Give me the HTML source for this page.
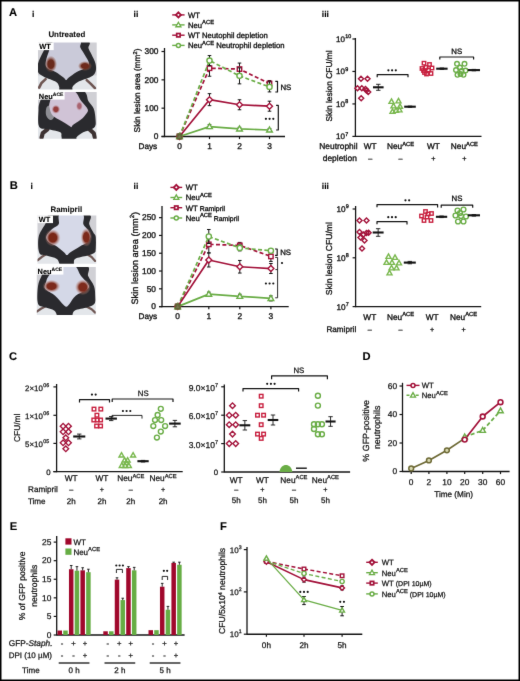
<!DOCTYPE html>
<html><head><meta charset="utf-8"><style>
html,body{margin:0;padding:0;background:#fff;}
body{width:520px;height:681px;overflow:hidden;}
svg{display:block;will-change:transform;}
text{font-family:"Liberation Sans", sans-serif;text-rendering:geometricPrecision;}
</style></head><body>
<svg width="520" height="681" viewBox="0 0 520 681">
<defs><filter id="gblur" color-interpolation-filters="sRGB" x="0" y="0" width="520" height="681" filterUnits="userSpaceOnUse"><feConvolveMatrix order="3" kernelMatrix="0.00524 0.06192 0.00524 0.06192 0.73137 0.06192 0.00524 0.06192 0.00524" edgeMode="duplicate" preserveAlpha="true"/></filter></defs>
<g filter="url(#gblur)">
<rect x="0" y="0" width="520" height="681" fill="#fff"/>
<text x="9" y="16.3" font-size="11.2" font-weight="bold" fill="#000" stroke="#000" stroke-width="0.1">A</text>
<text x="32" y="16.9" font-size="8.6" font-weight="bold" fill="#000" stroke="#000" stroke-width="0.1">i</text>
<text x="66.8" y="36.7" font-size="7.9" text-anchor="middle" font-weight="bold" fill="#111" stroke="#111" stroke-width="0.1">Untreated</text>
<defs><clipPath id="cp1"><rect x="38" y="42.5" width="58.7" height="47"/></clipPath>
<radialGradient id="lg1_0"><stop offset="0" stop-color="#6a2a1c"/><stop offset="0.5" stop-color="#6a2a1c"/><stop offset="1" stop-color="#9a6050" stop-opacity="0"/></radialGradient>
<radialGradient id="lg1_1"><stop offset="0" stop-color="#6e2c1c"/><stop offset="0.5" stop-color="#6e2c1c"/><stop offset="1" stop-color="#a06650" stop-opacity="0"/></radialGradient>
<filter id="sf1" x="-10%" y="-10%" width="120%" height="120%"><feGaussianBlur stdDeviation="0.6"/></filter>
</defs>
<g clip-path="url(#cp1)"><g filter="url(#sf1)">
<rect x="36" y="40.5" width="62.7" height="51" fill="#d0d0d5"/>
<rect x="36" y="75.4" width="62.7" height="16.57" fill="#e3e6ea"/>
<polyline points="39.17,87.62 41.52,82.92 45.63,79.16" fill="none" stroke="#6e5652" stroke-width="2.6" stroke-linecap="round" stroke-linejoin="round"/>
<polyline points="94.94,88.09 90.83,83.86 86.72,80.1" fill="none" stroke="#6e5652" stroke-width="2.6" stroke-linecap="round" stroke-linejoin="round"/>
<path d="M49.74,41.09 C56.39,40.39 80.26,39.92 86.72,41.09 C93.18,42.27 87.7,45.95 88.48,48.14 C89.26,50.33 90.24,51.66 91.42,54.25 C92.59,56.84 94.84,60.75 95.53,63.65 C96.21,66.55 96.31,69.45 95.53,71.64 C94.74,73.83 93.77,75.09 90.83,76.81 C87.9,78.53 80.95,80.33 77.92,81.98 C74.88,83.62 73.71,85.19 72.63,86.68 C71.56,88.17 73.51,90.2 71.46,90.91 C69.4,91.61 62.36,91.61 60.31,90.91 C58.25,90.2 59.82,88.17 59.13,86.68 C58.45,85.19 58.74,83.62 56.2,81.98 C53.65,80.33 46.9,78.45 43.87,76.81 C40.84,75.17 38.98,74.3 38,72.11 C37.02,69.92 37.18,66.94 38,63.65 C38.82,60.36 41.46,55.42 42.93,52.37 C44.4,49.31 45.67,47.2 46.8,45.32 C47.94,43.44 43.09,41.8 49.74,41.09Z" fill="#2b2b2e"/>
<path d="M54.73,41.09 C59.82,39.21 74.83,40.07 79.09,41.09 C83.35,42.11 79.38,45.01 80.26,47.2 C81.14,49.39 82.91,51.51 84.37,54.25 C85.84,56.99 89.17,61.22 89.07,63.65 C88.97,66.08 85.84,67.41 83.79,68.82 C81.73,70.23 79.29,70.62 76.74,72.11 C74.2,73.6 70.28,76.42 68.52,77.75 C66.76,79.08 66.96,80.1 66.18,80.1 C65.39,80.1 65.59,79.08 63.83,77.75 C62.07,76.42 58.25,73.6 55.61,72.11 C52.97,70.62 49.64,70.23 47.98,68.82 C46.32,67.41 45.53,66.39 45.63,63.65 C45.73,60.91 47.05,56.13 48.57,52.37 C50.08,48.61 49.64,42.97 54.73,41.09Z" fill="#cacad9"/>
<ellipse cx="50.91" cy="64.12" rx="6.16" ry="8.46" fill="url(#lg1_0)"/>
<ellipse cx="84.96" cy="66" rx="7.04" ry="4.94" fill="url(#lg1_1)"/>
</g></g>
<rect x="38" y="42.5" width="15.7" height="7.6" fill="#fff"/>
<text x="39.2" y="49.1" font-size="7.4" font-weight="bold" fill="#000" stroke="#000" stroke-width="0.1">WT</text>
<defs><clipPath id="cp2"><rect x="38" y="92" width="58.7" height="46.8"/></clipPath>
<radialGradient id="lg2_0"><stop offset="0" stop-color="#943c3c"/><stop offset="0.5" stop-color="#943c3c"/><stop offset="1" stop-color="#c09098" stop-opacity="0"/></radialGradient>
<radialGradient id="lg2_1"><stop offset="0" stop-color="#a86470"/><stop offset="0.5" stop-color="#a86470"/><stop offset="1" stop-color="#c8a0b0" stop-opacity="0"/></radialGradient>
<filter id="sf2" x="-10%" y="-10%" width="120%" height="120%"><feGaussianBlur stdDeviation="0.6"/></filter>
</defs>
<g clip-path="url(#cp2)"><g filter="url(#sf2)">
<rect x="36" y="90" width="62.7" height="50.8" fill="#d0d0d5"/>
<rect x="36" y="124.76" width="62.7" height="16.51" fill="#e3e6ea"/>
<polyline points="41.52,137.86 42.7,133.18 47.39,129.44" fill="none" stroke="#3e3232" stroke-width="4.2" stroke-linecap="round" stroke-linejoin="round"/>
<polyline points="94.94,137.86 93.77,133.18 89.66,129.44" fill="none" stroke="#3e3232" stroke-width="4.2" stroke-linecap="round" stroke-linejoin="round"/>
<path d="M49.74,90.6 C56.1,89.89 75.57,88.8 82.03,90.6 C88.48,92.39 86.53,98.32 88.48,101.36 C90.44,104.4 92.59,105.81 93.77,108.85 C94.94,111.89 95.33,116.65 95.53,119.61 C95.72,122.58 96.11,124.84 94.94,126.63 C93.76,128.43 90.44,129.44 88.48,130.38 C86.53,131.31 85.16,131.16 83.2,132.25 C81.24,133.34 78.01,135.6 76.74,136.93 C75.47,138.25 77.82,139.66 75.57,140.2 C73.32,140.75 65.59,140.83 63.24,140.2 C60.89,139.58 61.97,137.79 61.48,136.46 C60.99,135.13 62.26,133.42 60.31,132.25 C58.35,131.08 53.26,130.38 49.74,129.44 C46.22,128.5 41.03,129.91 39.17,126.63 C37.32,123.36 38.49,113.84 38.59,109.78 C38.68,105.73 38.88,104.79 39.76,102.3 C40.64,99.8 42.21,96.76 43.87,94.81 C45.53,92.86 43.38,91.3 49.74,90.6Z" fill="#2b2b2e"/>
<path d="M46.8,106.98 C47.88,105.42 51.4,104.64 52.67,106.04 C53.95,107.44 54.73,113.06 54.44,115.4 C54.14,117.74 52.28,120.08 50.91,120.08 C49.54,120.08 46.9,117.58 46.22,115.4 C45.53,113.22 45.73,108.54 46.8,106.98Z" fill="#8e8e94"/>
<path d="M55.61,90.6 C59.52,88.65 68.92,88.8 73.22,90.6 C77.52,92.39 78.99,98.16 81.44,101.36 C83.88,104.56 87.31,107.44 87.9,109.78 C88.48,112.12 86.23,113.68 84.96,115.4 C83.69,117.12 82.22,118.52 80.26,120.08 C78.31,121.64 74.69,123.59 73.22,124.76 C71.75,125.93 72.14,126.94 71.46,127.1 C70.77,127.26 70.77,126.71 69.11,125.7 C67.45,124.68 64.22,122.73 61.48,121.02 C58.74,119.3 54.63,117.51 52.67,115.4 C50.72,113.29 50.23,110.56 49.74,108.38 C49.25,106.2 48.76,105.26 49.74,102.3 C50.72,99.33 51.7,92.55 55.61,90.6Z" fill="#d0c3d6"/>
<ellipse cx="55.9" cy="109.32" rx="4.4" ry="4.56" fill="url(#lg2_0)"/>
<ellipse cx="79.38" cy="106.04" rx="3.52" ry="4.91" fill="url(#lg2_1)"/>
</g></g>
<rect x="38" y="92" width="26.6" height="7.6" fill="#fff"/>
<text x="38.8" y="98.6" font-size="7.4" font-weight="bold" fill="#000" stroke="#000" stroke-width="0.1">Neu<tspan font-size="5" dy="-2.8">ACE</tspan></text>
<text x="133.6" y="17.2" font-size="8.6" font-weight="bold" fill="#000" stroke="#000" stroke-width="0.1">ii</text>
<line x1="172.2" y1="14.9" x2="184.6" y2="14.9" stroke="#a3123a" stroke-width="1.4"/>
<polygon points="178.4,12.37 180.93,14.9 178.4,17.43 175.87,14.9" fill="#fff" stroke="#a3123a" stroke-width="1.9"/>
<text x="188" y="17.7" font-size="7.7" fill="#141414" stroke="#141414" stroke-width="0.34">WT</text>
<line x1="172.2" y1="24.9" x2="184.6" y2="24.9" stroke="#6aad46" stroke-width="1.4"/>
<polygon points="178.4,22.25 180.93,26.74 175.87,26.74" fill="#fff" stroke="#6aad46" stroke-width="1.3" stroke-linejoin="miter"/>
<text x="188" y="27.7" font-size="7.7" fill="#141414" stroke="#141414" stroke-width="0.34">Neu<tspan font-size="5.8" dy="-3.4">ACE</tspan></text>
<line x1="172.2" y1="35.2" x2="184.6" y2="35.2" stroke="#a3123a" stroke-width="1.4"/>
<rect x="176.7" y="33.5" width="3.4" height="3.4" fill="#fff" stroke="#a3123a" stroke-width="1.7"/>
<text x="188" y="38" font-size="7.7" fill="#141414" stroke="#141414" stroke-width="0.34">WT Neutophil depletion</text>
<line x1="172.2" y1="45.4" x2="184.6" y2="45.4" stroke="#6aad46" stroke-width="1.4"/>
<circle cx="178.4" cy="45.4" r="2" fill="#fff" stroke="#6aad46" stroke-width="1.5"/>
<text x="188" y="48.2" font-size="7.7" fill="#141414" stroke="#141414" stroke-width="0.34">Neu<tspan font-size="5.8" dy="-3.4">ACE</tspan><tspan dy="3.4"> Neutrophil depletion</tspan></text>
<line x1="164.5" y1="48" x2="164.5" y2="137.1" stroke="#141414" stroke-width="1.3"/>
<line x1="161.5" y1="136.5" x2="164.5" y2="136.5" stroke="#141414" stroke-width="1.2"/>
<text x="158.5" y="139.3" font-size="8.4" text-anchor="end" fill="#141414" stroke="#141414" stroke-width="0.34">0</text>
<line x1="161.5" y1="108.17" x2="164.5" y2="108.17" stroke="#141414" stroke-width="1.2"/>
<text x="158.5" y="110.97" font-size="8.4" text-anchor="end" fill="#141414" stroke="#141414" stroke-width="0.34">100</text>
<line x1="161.5" y1="79.84" x2="164.5" y2="79.84" stroke="#141414" stroke-width="1.2"/>
<text x="158.5" y="82.64" font-size="8.4" text-anchor="end" fill="#141414" stroke="#141414" stroke-width="0.34">200</text>
<line x1="161.5" y1="51.51" x2="164.5" y2="51.51" stroke="#141414" stroke-width="1.2"/>
<text x="158.5" y="54.31" font-size="8.4" text-anchor="end" fill="#141414" stroke="#141414" stroke-width="0.34">300</text>
<line x1="161.5" y1="136.5" x2="285" y2="136.5" stroke="#141414" stroke-width="1.4"/>
<line x1="209.5" y1="136.5" x2="209.5" y2="139.1" stroke="#141414" stroke-width="1.2"/>
<line x1="239.5" y1="136.5" x2="239.5" y2="139.1" stroke="#141414" stroke-width="1.2"/>
<line x1="269.5" y1="136.5" x2="269.5" y2="139.1" stroke="#141414" stroke-width="1.2"/>
<text x="179.5" y="148.6" font-size="8.4" text-anchor="middle" fill="#141414" stroke="#141414" stroke-width="0.34">0</text>
<text x="209.5" y="148.6" font-size="8.4" text-anchor="middle" fill="#141414" stroke="#141414" stroke-width="0.34">1</text>
<text x="239.5" y="148.6" font-size="8.4" text-anchor="middle" fill="#141414" stroke="#141414" stroke-width="0.34">2</text>
<text x="269.5" y="148.6" font-size="8.4" text-anchor="middle" fill="#141414" stroke="#141414" stroke-width="0.34">3</text>
<text x="157.2" y="148.6" font-size="8.2" text-anchor="end" fill="#141414" stroke="#141414" stroke-width="0.34">Days</text>
<text transform="translate(139.6,90.5) rotate(-90)" text-anchor="middle" font-size="8.3" fill="#141414" stroke="#141414" stroke-width="0.34">Skin lesion area (mm<tspan font-size="5.6" dy="-3">2</tspan><tspan dy="3">)</tspan></text>
<polyline points="179.5,136.5 209.5,68.22 239.5,69.07 269.5,83.52" fill="none" stroke="#a3123a" stroke-width="1.7" stroke-dasharray="4,2.4" stroke-linejoin="round"/>
<line x1="209.5" y1="61.22" x2="209.5" y2="76.22" stroke="#141414" stroke-width="1"/>
<line x1="207.7" y1="61.22" x2="211.3" y2="61.22" stroke="#141414" stroke-width="1"/>
<line x1="207.7" y1="76.22" x2="211.3" y2="76.22" stroke="#141414" stroke-width="1"/>
<line x1="239.5" y1="63.07" x2="239.5" y2="74.07" stroke="#141414" stroke-width="1"/>
<line x1="237.7" y1="63.07" x2="241.3" y2="63.07" stroke="#141414" stroke-width="1"/>
<line x1="237.7" y1="74.07" x2="241.3" y2="74.07" stroke="#141414" stroke-width="1"/>
<line x1="269.5" y1="80.52" x2="269.5" y2="86.52" stroke="#141414" stroke-width="1"/>
<line x1="267.7" y1="80.52" x2="271.3" y2="80.52" stroke="#141414" stroke-width="1"/>
<line x1="267.7" y1="86.52" x2="271.3" y2="86.52" stroke="#141414" stroke-width="1"/>
<rect x="177.29" y="134.29" width="4.42" height="4.42" fill="#fff" stroke="#a3123a" stroke-width="1.4"/>
<rect x="207.29" y="66.01" width="4.42" height="4.42" fill="#fff" stroke="#a3123a" stroke-width="1.4"/>
<rect x="237.29" y="66.86" width="4.42" height="4.42" fill="#fff" stroke="#a3123a" stroke-width="1.4"/>
<rect x="267.29" y="81.31" width="4.42" height="4.42" fill="#fff" stroke="#a3123a" stroke-width="1.4"/>
<polyline points="179.5,136.5 209.5,60.58 239.5,75.87 269.5,86.92" fill="none" stroke="#6aad46" stroke-width="1.7" stroke-dasharray="4,2.4" stroke-linejoin="round"/>
<line x1="209.5" y1="55.58" x2="209.5" y2="65.58" stroke="#141414" stroke-width="1"/>
<line x1="207.7" y1="55.58" x2="211.3" y2="55.58" stroke="#141414" stroke-width="1"/>
<line x1="207.7" y1="65.58" x2="211.3" y2="65.58" stroke="#141414" stroke-width="1"/>
<line x1="239.5" y1="67.87" x2="239.5" y2="83.87" stroke="#141414" stroke-width="1"/>
<line x1="237.7" y1="67.87" x2="241.3" y2="67.87" stroke="#141414" stroke-width="1"/>
<line x1="237.7" y1="83.87" x2="241.3" y2="83.87" stroke="#141414" stroke-width="1"/>
<line x1="269.5" y1="81.92" x2="269.5" y2="91.92" stroke="#141414" stroke-width="1"/>
<line x1="267.7" y1="81.92" x2="271.3" y2="81.92" stroke="#141414" stroke-width="1"/>
<line x1="267.7" y1="91.92" x2="271.3" y2="91.92" stroke="#141414" stroke-width="1"/>
<circle cx="179.5" cy="136.5" r="2.6" fill="#fff" stroke="#6aad46" stroke-width="1.4"/>
<circle cx="209.5" cy="60.58" r="2.6" fill="#fff" stroke="#6aad46" stroke-width="1.4"/>
<circle cx="239.5" cy="75.87" r="2.6" fill="#fff" stroke="#6aad46" stroke-width="1.4"/>
<circle cx="269.5" cy="86.92" r="2.6" fill="#fff" stroke="#6aad46" stroke-width="1.4"/>
<polyline points="179.5,136.5 209.5,99.67 239.5,104.77 269.5,106.19" fill="none" stroke="#a3123a" stroke-width="1.7" stroke-linejoin="round"/>
<line x1="209.5" y1="93.67" x2="209.5" y2="105.67" stroke="#141414" stroke-width="1"/>
<line x1="207.7" y1="93.67" x2="211.3" y2="93.67" stroke="#141414" stroke-width="1"/>
<line x1="207.7" y1="105.67" x2="211.3" y2="105.67" stroke="#141414" stroke-width="1"/>
<line x1="239.5" y1="99.77" x2="239.5" y2="109.77" stroke="#141414" stroke-width="1"/>
<line x1="237.7" y1="99.77" x2="241.3" y2="99.77" stroke="#141414" stroke-width="1"/>
<line x1="237.7" y1="109.77" x2="241.3" y2="109.77" stroke="#141414" stroke-width="1"/>
<line x1="269.5" y1="101.19" x2="269.5" y2="111.19" stroke="#141414" stroke-width="1"/>
<line x1="267.7" y1="101.19" x2="271.3" y2="101.19" stroke="#141414" stroke-width="1"/>
<line x1="267.7" y1="111.19" x2="271.3" y2="111.19" stroke="#141414" stroke-width="1"/>
<polygon points="179.5,133.51 182.49,136.5 179.5,139.49 176.51,136.5" fill="#fff" stroke="#a3123a" stroke-width="1.4"/>
<polygon points="209.5,96.68 212.49,99.67 209.5,102.66 206.51,99.67" fill="#fff" stroke="#a3123a" stroke-width="1.4"/>
<polygon points="239.5,101.78 242.49,104.77 239.5,107.76 236.51,104.77" fill="#fff" stroke="#a3123a" stroke-width="1.4"/>
<polygon points="269.5,103.2 272.49,106.19 269.5,109.18 266.51,106.19" fill="#fff" stroke="#a3123a" stroke-width="1.4"/>
<polyline points="179.5,136.5 209.5,126.58 239.5,128.85 269.5,129.98" fill="none" stroke="#6aad46" stroke-width="1.7" stroke-linejoin="round"/>
<line x1="209.5" y1="124.58" x2="209.5" y2="128.58" stroke="#141414" stroke-width="1"/>
<line x1="207.7" y1="124.58" x2="211.3" y2="124.58" stroke="#141414" stroke-width="1"/>
<line x1="207.7" y1="128.58" x2="211.3" y2="128.58" stroke="#141414" stroke-width="1"/>
<line x1="239.5" y1="127.35" x2="239.5" y2="130.35" stroke="#141414" stroke-width="1"/>
<line x1="237.7" y1="127.35" x2="241.3" y2="127.35" stroke="#141414" stroke-width="1"/>
<line x1="237.7" y1="130.35" x2="241.3" y2="130.35" stroke="#141414" stroke-width="1"/>
<line x1="269.5" y1="128.48" x2="269.5" y2="131.48" stroke="#141414" stroke-width="1"/>
<line x1="267.7" y1="128.48" x2="271.3" y2="128.48" stroke="#141414" stroke-width="1"/>
<line x1="267.7" y1="131.48" x2="271.3" y2="131.48" stroke="#141414" stroke-width="1"/>
<polygon points="179.5,133.51 182.36,138.58 176.64,138.58" fill="#fff" stroke="#6aad46" stroke-width="1.4" stroke-linejoin="miter"/>
<polygon points="209.5,123.59 212.36,128.66 206.64,128.66" fill="#fff" stroke="#6aad46" stroke-width="1.4" stroke-linejoin="miter"/>
<polygon points="239.5,125.86 242.36,130.93 236.64,130.93" fill="#fff" stroke="#6aad46" stroke-width="1.4" stroke-linejoin="miter"/>
<polygon points="269.5,126.99 272.36,132.06 266.64,132.06" fill="#fff" stroke="#6aad46" stroke-width="1.4" stroke-linejoin="miter"/>
<rect x="176.6" y="133.4" width="5.8" height="6" fill="#5e5a34" opacity="0.85"/>
<polyline points="275.3,81.3 277.5,81.3 277.5,92 275.3,92" fill="none" stroke="#141414" stroke-width="1.2" stroke-linejoin="round"/>
<text x="280.4" y="89.6" font-size="7.8" fill="#141414" stroke="#141414" stroke-width="0.34">NS</text>
<polyline points="276.1,105.4 278.3,105.4 278.3,130 276.1,130" fill="none" stroke="#141414" stroke-width="1.2" stroke-linejoin="round"/>
<circle cx="265.9" cy="118.8" r="1.1" fill="#141414"/>
<circle cx="269.6" cy="118.8" r="1.1" fill="#141414"/>
<circle cx="273.3" cy="118.8" r="1.1" fill="#141414"/>
<text x="321.8" y="17.2" font-size="8.6" font-weight="bold" fill="#000" stroke="#000" stroke-width="0.1">iii</text>
<line x1="355.4" y1="38" x2="355.4" y2="137" stroke="#141414" stroke-width="1.3"/>
<line x1="352.4" y1="136.4" x2="355.4" y2="136.4" stroke="#141414" stroke-width="1.2"/>
<text x="345" y="139.4" font-size="8" text-anchor="end" fill="#141414" stroke="#141414" stroke-width="0.34">10</text>
<text x="345.2" y="135.8" font-size="5.4" fill="#141414" stroke="#141414" stroke-width="0.34">7</text>
<line x1="352.4" y1="103.93" x2="355.4" y2="103.93" stroke="#141414" stroke-width="1.2"/>
<text x="345" y="106.93" font-size="8" text-anchor="end" fill="#141414" stroke="#141414" stroke-width="0.34">10</text>
<text x="345.2" y="103.33" font-size="5.4" fill="#141414" stroke="#141414" stroke-width="0.34">8</text>
<line x1="352.4" y1="71.46" x2="355.4" y2="71.46" stroke="#141414" stroke-width="1.2"/>
<text x="345" y="74.46" font-size="8" text-anchor="end" fill="#141414" stroke="#141414" stroke-width="0.34">10</text>
<text x="345.2" y="70.86" font-size="5.4" fill="#141414" stroke="#141414" stroke-width="0.34">9</text>
<line x1="352.4" y1="38.99" x2="355.4" y2="38.99" stroke="#141414" stroke-width="1.2"/>
<text x="345" y="41.99" font-size="8" text-anchor="end" fill="#141414" stroke="#141414" stroke-width="0.34">10</text>
<text x="345.2" y="38.39" font-size="5.4" fill="#141414" stroke="#141414" stroke-width="0.34">10</text>
<line x1="355.4" y1="136.4" x2="481.5" y2="136.4" stroke="#141414" stroke-width="1.4"/>
<text transform="translate(331.6,86) rotate(-90)" text-anchor="middle" font-size="8.4" fill="#141414" stroke="#141414" stroke-width="0.34">Skin lesion CFU/ml</text>
<polygon points="361,76.27 363.53,78.8 361,81.33 358.47,78.8" fill="none" stroke="#a3123a" stroke-width="1.4"/>
<polygon points="367.5,76.27 370.03,78.8 367.5,81.33 364.97,78.8" fill="none" stroke="#a3123a" stroke-width="1.4"/>
<polygon points="357.5,85.77 360.03,88.3 357.5,90.83 354.97,88.3" fill="none" stroke="#a3123a" stroke-width="1.4"/>
<polygon points="361.8,85.77 364.33,88.3 361.8,90.83 359.27,88.3" fill="none" stroke="#a3123a" stroke-width="1.4"/>
<polygon points="365.5,86.47 368.03,89 365.5,91.53 362.97,89" fill="none" stroke="#a3123a" stroke-width="1.4"/>
<polygon points="368.2,89.47 370.73,92 368.2,94.53 365.67,92" fill="none" stroke="#a3123a" stroke-width="1.4"/>
<polygon points="361.2,95.77 363.73,98.3 361.2,100.83 358.67,98.3" fill="none" stroke="#a3123a" stroke-width="1.4"/>
<polygon points="366.5,87.97 369.03,90.5 366.5,93.03 363.97,90.5" fill="none" stroke="#a3123a" stroke-width="1.4"/>
<line x1="373" y1="87.3" x2="383.6" y2="87.3" stroke="#141414" stroke-width="2.1"/>
<line x1="378.3" y1="84.3" x2="378.3" y2="90.3" stroke="#141414" stroke-width="0.9"/>
<line x1="376.1" y1="84.3" x2="380.5" y2="84.3" stroke="#141414" stroke-width="0.9"/>
<line x1="376.1" y1="90.3" x2="380.5" y2="90.3" stroke="#141414" stroke-width="0.9"/>
<polygon points="391.5,98.86 394.03,103.34 388.97,103.34" fill="none" stroke="#7ab84f" stroke-width="1.4" stroke-linejoin="miter"/>
<polygon points="398.5,98.36 401.03,102.84 395.97,102.84" fill="none" stroke="#7ab84f" stroke-width="1.4" stroke-linejoin="miter"/>
<polygon points="393.5,103.36 396.03,107.84 390.97,107.84" fill="none" stroke="#7ab84f" stroke-width="1.4" stroke-linejoin="miter"/>
<polygon points="400,103.86 402.53,108.34 397.47,108.34" fill="none" stroke="#7ab84f" stroke-width="1.4" stroke-linejoin="miter"/>
<polygon points="396,107.86 398.53,112.34 393.47,112.34" fill="none" stroke="#7ab84f" stroke-width="1.4" stroke-linejoin="miter"/>
<polygon points="392.5,108.86 395.03,113.34 389.97,113.34" fill="none" stroke="#7ab84f" stroke-width="1.4" stroke-linejoin="miter"/>
<polygon points="399.5,107.36 402.03,111.84 396.97,111.84" fill="none" stroke="#7ab84f" stroke-width="1.4" stroke-linejoin="miter"/>
<line x1="404.2" y1="106.7" x2="415.8" y2="106.7" stroke="#141414" stroke-width="2.1"/>
<line x1="410" y1="106.1" x2="410" y2="107.3" stroke="#141414" stroke-width="0.9"/>
<line x1="407.8" y1="106.1" x2="412.2" y2="106.1" stroke="#141414" stroke-width="0.9"/>
<line x1="407.8" y1="107.3" x2="412.2" y2="107.3" stroke="#141414" stroke-width="0.9"/>
<rect x="422.3" y="61.5" width="3.4" height="3.4" fill="none" stroke="#c8203f" stroke-width="1.4"/>
<rect x="427.8" y="62.8" width="3.4" height="3.4" fill="none" stroke="#c8203f" stroke-width="1.4"/>
<rect x="430.3" y="66.3" width="3.4" height="3.4" fill="none" stroke="#c8203f" stroke-width="1.4"/>
<rect x="420.3" y="66.8" width="3.4" height="3.4" fill="none" stroke="#c8203f" stroke-width="1.4"/>
<rect x="424.3" y="65.8" width="3.4" height="3.4" fill="none" stroke="#c8203f" stroke-width="1.4"/>
<rect x="426.8" y="68.3" width="3.4" height="3.4" fill="none" stroke="#c8203f" stroke-width="1.4"/>
<rect x="422.8" y="70.8" width="3.4" height="3.4" fill="none" stroke="#c8203f" stroke-width="1.4"/>
<rect x="429.3" y="71.8" width="3.4" height="3.4" fill="none" stroke="#c8203f" stroke-width="1.4"/>
<rect x="424.8" y="72.3" width="3.4" height="3.4" fill="none" stroke="#c8203f" stroke-width="1.4"/>
<rect x="421.8" y="68.8" width="3.4" height="3.4" fill="none" stroke="#c8203f" stroke-width="1.4"/>
<line x1="436.2" y1="68.7" x2="447.6" y2="68.7" stroke="#141414" stroke-width="2.1"/>
<line x1="441.9" y1="68" x2="441.9" y2="69.4" stroke="#141414" stroke-width="0.9"/>
<line x1="439.7" y1="68" x2="444.1" y2="68" stroke="#141414" stroke-width="0.9"/>
<line x1="439.7" y1="69.4" x2="444.1" y2="69.4" stroke="#141414" stroke-width="0.9"/>
<circle cx="457" cy="63.8" r="2.3" fill="none" stroke="#6aad46" stroke-width="1.4"/>
<circle cx="464.5" cy="63.8" r="2.3" fill="none" stroke="#6aad46" stroke-width="1.4"/>
<circle cx="460" cy="67.5" r="2.3" fill="none" stroke="#6aad46" stroke-width="1.4"/>
<circle cx="456" cy="70" r="2.3" fill="none" stroke="#6aad46" stroke-width="1.4"/>
<circle cx="461.5" cy="71" r="2.3" fill="none" stroke="#6aad46" stroke-width="1.4"/>
<circle cx="465.5" cy="70.5" r="2.3" fill="none" stroke="#6aad46" stroke-width="1.4"/>
<circle cx="457.5" cy="74.8" r="2.3" fill="none" stroke="#6aad46" stroke-width="1.4"/>
<circle cx="463.5" cy="74.8" r="2.3" fill="none" stroke="#6aad46" stroke-width="1.4"/>
<circle cx="460.5" cy="74" r="2.3" fill="none" stroke="#6aad46" stroke-width="1.4"/>
<line x1="467.8" y1="70.1" x2="480" y2="70.1" stroke="#141414" stroke-width="2.1"/>
<line x1="473.9" y1="69.4" x2="473.9" y2="70.8" stroke="#141414" stroke-width="0.9"/>
<line x1="471.7" y1="69.4" x2="476.1" y2="69.4" stroke="#141414" stroke-width="0.9"/>
<line x1="471.7" y1="70.8" x2="476.1" y2="70.8" stroke="#141414" stroke-width="0.9"/>
<polyline points="377.2,77.2 377.2,74.6 408,74.6 408,77.2" fill="none" stroke="#141414" stroke-width="1.2" stroke-linejoin="round"/>
<circle cx="388.4" cy="70.3" r="1.1" fill="#141414"/>
<circle cx="392.1" cy="70.3" r="1.1" fill="#141414"/>
<circle cx="395.8" cy="70.3" r="1.1" fill="#141414"/>
<polyline points="439.8,59.6 439.8,57 473.6,57 473.6,59.6" fill="none" stroke="#141414" stroke-width="1.2" stroke-linejoin="round"/>
<text x="456.7" y="53.5" font-size="7.8" text-anchor="middle" fill="#141414" stroke="#141414" stroke-width="0.34">NS</text>
<text x="357.5" y="149.2" font-size="8.4" text-anchor="end" fill="#141414" stroke="#141414" stroke-width="0.34">Neutrophil</text>
<text x="356.8" y="161" font-size="8.4" text-anchor="end" fill="#141414" stroke="#141414" stroke-width="0.34">depletion</text>
<text x="370.2" y="149.2" font-size="8.3" text-anchor="middle" fill="#141414" stroke="#141414" stroke-width="0.34">WT</text>
<text x="370.2" y="161" font-size="7.2" text-anchor="middle" fill="#141414" stroke="#141414" stroke-width="0.34">–</text>
<text x="400.6" y="149.2" font-size="8.3" text-anchor="middle" fill="#141414" stroke="#141414" stroke-width="0.34">Neu<tspan font-size="5.8" dy="-3.4">ACE</tspan></text>
<text x="400.6" y="161" font-size="7.2" text-anchor="middle" fill="#141414" stroke="#141414" stroke-width="0.34">–</text>
<text x="433.4" y="149.2" font-size="8.3" text-anchor="middle" fill="#141414" stroke="#141414" stroke-width="0.34">WT</text>
<text x="433.4" y="161" font-size="7.2" text-anchor="middle" fill="#141414" stroke="#141414" stroke-width="0.34">+</text>
<text x="464.4" y="149.2" font-size="8.3" text-anchor="middle" fill="#141414" stroke="#141414" stroke-width="0.34">Neu<tspan font-size="5.8" dy="-3.4">ACE</tspan></text>
<text x="464.4" y="161" font-size="7.2" text-anchor="middle" fill="#141414" stroke="#141414" stroke-width="0.34">+</text>
<text x="9.7" y="188.6" font-size="11.2" font-weight="bold" fill="#000" stroke="#000" stroke-width="0.1">B</text>
<text x="30.4" y="189.2" font-size="8.6" font-weight="bold" fill="#000" stroke="#000" stroke-width="0.1">i</text>
<text x="66.3" y="211.6" font-size="7.9" text-anchor="middle" font-weight="bold" fill="#111" stroke="#111" stroke-width="0.1">Ramipril</text>
<defs><clipPath id="cp3"><rect x="37.5" y="215.5" width="58.8" height="48.3"/></clipPath>
<radialGradient id="lg3_0"><stop offset="0" stop-color="#7a2618"/><stop offset="0.5" stop-color="#7a2618"/><stop offset="1" stop-color="#c89890" stop-opacity="0"/></radialGradient>
<radialGradient id="lg3_1"><stop offset="0" stop-color="#7c2a1a"/><stop offset="0.5" stop-color="#7c2a1a"/><stop offset="1" stop-color="#c89c94" stop-opacity="0"/></radialGradient>
<filter id="sf3" x="-10%" y="-10%" width="120%" height="120%"><feGaussianBlur stdDeviation="0.6"/></filter>
</defs>
<g clip-path="url(#cp3)"><g filter="url(#sf3)">
<rect x="35.5" y="213.5" width="62.8" height="52.3" fill="#d0d0d5"/>
<rect x="35.5" y="249.31" width="62.8" height="16.97" fill="#e3e6ea"/>
<polyline points="37.5,260.42 41.62,257.04 46.32,254.14" fill="none" stroke="#6e5652" stroke-width="2.2" stroke-linecap="round" stroke-linejoin="round"/>
<polyline points="95.12,260.9 91.6,257.04 86.89,254.14" fill="none" stroke="#6e5652" stroke-width="2.2" stroke-linecap="round" stroke-linejoin="round"/>
<path d="M51.61,214.05 C58.28,213.33 81.8,212.36 88.07,214.05 C94.34,215.74 88.36,221.13 89.24,224.19 C90.13,227.25 92.28,230.31 93.36,232.41 C94.44,234.5 95.32,233.93 95.71,236.75 C96.1,239.57 95.91,246.65 95.71,249.31 C95.52,251.97 95.91,251.64 94.54,252.69 C93.16,253.74 90.71,254.54 87.48,255.59 C84.25,256.64 77.58,257.36 75.13,258.97 C72.68,260.58 75.13,264.2 72.78,265.25 C70.43,266.3 63.67,266.3 61.02,265.25 C58.37,264.2 59.35,260.58 56.9,258.97 C54.45,257.36 49.26,256.64 46.32,255.59 C43.38,254.54 40.54,255.83 39.26,252.69 C37.99,249.55 37.7,241.5 38.68,236.75 C39.66,232 43.58,227.25 45.14,224.19 C46.71,221.13 47.01,220.09 48.08,218.4 C49.16,216.71 44.95,214.78 51.61,214.05Z" fill="#2b2b2e"/>
<path d="M60.43,214.05 C64.35,212.36 78.37,212.36 82.19,214.05 C86.01,215.74 82.38,221.54 83.36,224.19 C84.34,226.85 86.89,227.9 88.07,229.99 C89.24,232.08 90.62,234.66 90.42,236.75 C90.22,238.84 88.66,240.94 86.89,242.55 C85.13,244.16 82.58,244.8 79.84,246.41 C77.09,248.02 72.58,250.76 70.43,252.21 C68.27,253.66 67.98,255.11 66.9,255.11 C65.82,255.11 65.63,253.66 63.96,252.21 C62.29,250.76 59.35,248.02 56.9,246.41 C54.45,244.8 51.02,244.16 49.26,242.55 C47.5,240.94 45.83,239.01 46.32,236.75 C46.81,234.5 50.14,231.12 52.2,229.02 C54.26,226.93 57.3,226.69 58.67,224.19 C60.04,221.7 56.51,215.74 60.43,214.05Z" fill="#d6d9e8"/>
<ellipse cx="52.79" cy="237.72" rx="7.94" ry="8.69" fill="url(#lg3_0)"/>
<ellipse cx="86.3" cy="237.24" rx="5.73" ry="9.42" fill="url(#lg3_1)"/>
</g></g>
<rect x="37.5" y="215.5" width="15.5" height="7.6" fill="#fff"/>
<text x="38.7" y="222.1" font-size="7.4" font-weight="bold" fill="#000" stroke="#000" stroke-width="0.1">WT</text>
<defs><clipPath id="cp4"><rect x="36.8" y="267" width="59" height="48"/></clipPath>
<radialGradient id="lg4_0"><stop offset="0" stop-color="#7c2a1a"/><stop offset="0.5" stop-color="#7c2a1a"/><stop offset="1" stop-color="#c89890" stop-opacity="0"/></radialGradient>
<radialGradient id="lg4_1"><stop offset="0" stop-color="#7e2c1c"/><stop offset="0.5" stop-color="#7e2c1c"/><stop offset="1" stop-color="#c89c94" stop-opacity="0"/></radialGradient>
<filter id="sf4" x="-10%" y="-10%" width="120%" height="120%"><feGaussianBlur stdDeviation="0.6"/></filter>
</defs>
<g clip-path="url(#cp4)"><g filter="url(#sf4)">
<rect x="34.8" y="265" width="63" height="52" fill="#d0d0d5"/>
<rect x="34.8" y="300.6" width="63" height="16.88" fill="#e3e6ea"/>
<polyline points="36.8,311.64 40.93,308.76 45.65,306.36" fill="none" stroke="#6e5652" stroke-width="2.2" stroke-linecap="round" stroke-linejoin="round"/>
<polyline points="95.21,312.6 91.67,309.24 86.95,306.84" fill="none" stroke="#6e5652" stroke-width="2.2" stroke-linecap="round" stroke-linejoin="round"/>
<path d="M48.6,265.56 C55.58,264.84 79.18,263.8 85.77,265.56 C92.36,267.32 86.75,272.68 88.13,276.12 C89.51,279.56 92.85,282.92 94.03,286.2 C95.21,289.48 95.11,292.92 95.21,295.8 C95.31,298.68 95.9,301.56 94.62,303.48 C93.34,305.4 90.88,306.12 87.54,307.32 C84.2,308.52 77.31,309.16 74.56,310.68 C71.81,312.2 73.67,315.48 71.02,316.44 C68.36,317.4 61.38,317.4 58.63,316.44 C55.88,315.48 56.76,312.2 54.5,310.68 C52.24,309.16 47.81,308.52 45.06,307.32 C42.31,306.12 39.16,307 37.98,303.48 C36.8,299.96 37.39,290.76 37.98,286.2 C38.57,281.64 40.54,278.84 41.52,276.12 C42.5,273.4 42.7,271.64 43.88,269.88 C45.06,268.12 41.62,266.28 48.6,265.56Z" fill="#2b2b2e"/>
<path d="M62.76,265.56 C66.1,264.92 71.51,263.8 74.56,265.56 C77.61,267.32 78.89,273.16 81.05,276.12 C83.21,279.08 86.36,281.24 87.54,283.32 C88.72,285.4 90.1,286.52 88.13,288.6 C86.16,290.68 78.79,293.32 75.74,295.8 C72.69,298.28 71.41,301.64 69.84,303.48 C68.27,305.32 67.58,306.84 66.3,306.84 C65.02,306.84 64.04,305.32 62.17,303.48 C60.3,301.64 57.94,298.28 55.09,295.8 C52.24,293.32 46.54,291 45.06,288.6 C43.59,286.2 45.65,283.48 46.24,281.4 C46.83,279.32 47.22,278.12 48.6,276.12 C49.98,274.12 52.14,271.16 54.5,269.4 C56.86,267.64 59.42,266.2 62.76,265.56Z" fill="#d4d8e7"/>
<ellipse cx="51.55" cy="286.2" rx="8.85" ry="6.48" fill="url(#lg4_0)"/>
<ellipse cx="82.82" cy="287.16" rx="7.96" ry="7.92" fill="url(#lg4_1)"/>
</g></g>
<rect x="36.8" y="267" width="26.6" height="7.6" fill="#fff"/>
<text x="37.6" y="273.6" font-size="7.4" font-weight="bold" fill="#000" stroke="#000" stroke-width="0.1">Neu<tspan font-size="5" dy="-2.8">ACE</tspan></text>
<text x="133.6" y="189.4" font-size="8.6" font-weight="bold" fill="#000" stroke="#000" stroke-width="0.1">ii</text>
<line x1="170.4" y1="187.4" x2="182.2" y2="187.4" stroke="#a3123a" stroke-width="1.4"/>
<polygon points="176.3,184.87 178.83,187.4 176.3,189.93 173.77,187.4" fill="#fff" stroke="#a3123a" stroke-width="1.9"/>
<text x="185.8" y="190.2" font-size="7.7" fill="#141414" stroke="#141414" stroke-width="0.34">WT</text>
<line x1="170.4" y1="197.5" x2="182.2" y2="197.5" stroke="#6aad46" stroke-width="1.4"/>
<polygon points="176.3,194.85 178.83,199.34 173.77,199.34" fill="#fff" stroke="#6aad46" stroke-width="1.3" stroke-linejoin="miter"/>
<text x="185.8" y="200.3" font-size="7.7" fill="#141414" stroke="#141414" stroke-width="0.34">Neu<tspan font-size="5.8" dy="-3.4">ACE</tspan></text>
<line x1="170.4" y1="207.7" x2="182.2" y2="207.7" stroke="#a3123a" stroke-width="1.4"/>
<rect x="174.6" y="206" width="3.4" height="3.4" fill="#fff" stroke="#a3123a" stroke-width="1.7"/>
<text x="185.8" y="210.5" font-size="7.7" fill="#141414" stroke="#141414" stroke-width="0.34">WT <tspan font-size="6.9">Ramipril</tspan></text>
<line x1="170.4" y1="218" x2="182.2" y2="218" stroke="#6aad46" stroke-width="1.4"/>
<circle cx="176.3" cy="218" r="2" fill="#fff" stroke="#6aad46" stroke-width="1.5"/>
<text x="185.8" y="220.8" font-size="7.7" fill="#141414" stroke="#141414" stroke-width="0.34">Neu<tspan font-size="5.8" dy="-3.4">ACE</tspan><tspan dy="3.4" font-size="6.9"> Ramipril</tspan></text>
<line x1="162" y1="206" x2="162" y2="307.2" stroke="#141414" stroke-width="1.3"/>
<line x1="159" y1="306.6" x2="162" y2="306.6" stroke="#141414" stroke-width="1.2"/>
<text x="156" y="309.4" font-size="8.4" text-anchor="end" fill="#141414" stroke="#141414" stroke-width="0.34">0</text>
<line x1="159" y1="288.81" x2="162" y2="288.81" stroke="#141414" stroke-width="1.2"/>
<text x="156" y="291.61" font-size="8.4" text-anchor="end" fill="#141414" stroke="#141414" stroke-width="0.34">50</text>
<line x1="159" y1="271.02" x2="162" y2="271.02" stroke="#141414" stroke-width="1.2"/>
<text x="156" y="273.82" font-size="8.4" text-anchor="end" fill="#141414" stroke="#141414" stroke-width="0.34">100</text>
<line x1="159" y1="253.23" x2="162" y2="253.23" stroke="#141414" stroke-width="1.2"/>
<text x="156" y="256.03" font-size="8.4" text-anchor="end" fill="#141414" stroke="#141414" stroke-width="0.34">150</text>
<line x1="159" y1="235.44" x2="162" y2="235.44" stroke="#141414" stroke-width="1.2"/>
<text x="156" y="238.24" font-size="8.4" text-anchor="end" fill="#141414" stroke="#141414" stroke-width="0.34">200</text>
<line x1="159" y1="217.65" x2="162" y2="217.65" stroke="#141414" stroke-width="1.2"/>
<text x="156" y="220.45" font-size="8.4" text-anchor="end" fill="#141414" stroke="#141414" stroke-width="0.34">250</text>
<line x1="159" y1="306.6" x2="288.7" y2="306.6" stroke="#141414" stroke-width="1.4"/>
<line x1="208.8" y1="306.6" x2="208.8" y2="309.2" stroke="#141414" stroke-width="1.2"/>
<line x1="239.8" y1="306.6" x2="239.8" y2="309.2" stroke="#141414" stroke-width="1.2"/>
<line x1="270.9" y1="306.6" x2="270.9" y2="309.2" stroke="#141414" stroke-width="1.2"/>
<text x="177.7" y="319" font-size="8.4" text-anchor="middle" fill="#141414" stroke="#141414" stroke-width="0.34">0</text>
<text x="208.8" y="319" font-size="8.4" text-anchor="middle" fill="#141414" stroke="#141414" stroke-width="0.34">1</text>
<text x="239.8" y="319" font-size="8.4" text-anchor="middle" fill="#141414" stroke="#141414" stroke-width="0.34">2</text>
<text x="270.9" y="319" font-size="8.4" text-anchor="middle" fill="#141414" stroke="#141414" stroke-width="0.34">3</text>
<text x="157.2" y="319.2" font-size="8.2" text-anchor="end" fill="#141414" stroke="#141414" stroke-width="0.34">Days</text>
<text transform="translate(137.6,258.2) rotate(-90)" text-anchor="middle" font-size="9.2" fill="#141414" stroke="#141414" stroke-width="0.34">Skin lesion area (mm<tspan font-size="6" dy="-3.3">2</tspan><tspan dy="3.3">)</tspan></text>
<polyline points="177.7,306.6 208.8,244.34 239.8,245.4 270.9,256.43" fill="none" stroke="#a3123a" stroke-width="1.7" stroke-dasharray="4,2.4" stroke-linejoin="round"/>
<line x1="208.8" y1="235.84" x2="208.8" y2="252.84" stroke="#141414" stroke-width="1"/>
<line x1="207" y1="235.84" x2="210.6" y2="235.84" stroke="#141414" stroke-width="1"/>
<line x1="207" y1="252.84" x2="210.6" y2="252.84" stroke="#141414" stroke-width="1"/>
<line x1="239.8" y1="242.4" x2="239.8" y2="248.4" stroke="#141414" stroke-width="1"/>
<line x1="238" y1="242.4" x2="241.6" y2="242.4" stroke="#141414" stroke-width="1"/>
<line x1="238" y1="248.4" x2="241.6" y2="248.4" stroke="#141414" stroke-width="1"/>
<line x1="270.9" y1="251.43" x2="270.9" y2="261.43" stroke="#141414" stroke-width="1"/>
<line x1="269.1" y1="251.43" x2="272.7" y2="251.43" stroke="#141414" stroke-width="1"/>
<line x1="269.1" y1="261.43" x2="272.7" y2="261.43" stroke="#141414" stroke-width="1"/>
<rect x="175.49" y="304.39" width="4.42" height="4.42" fill="#fff" stroke="#a3123a" stroke-width="1.4"/>
<rect x="206.59" y="242.13" width="4.42" height="4.42" fill="#fff" stroke="#a3123a" stroke-width="1.4"/>
<rect x="237.59" y="243.19" width="4.42" height="4.42" fill="#fff" stroke="#a3123a" stroke-width="1.4"/>
<rect x="268.69" y="254.22" width="4.42" height="4.42" fill="#fff" stroke="#a3123a" stroke-width="1.4"/>
<polyline points="177.7,306.6 208.8,236.51 239.8,247.89 270.9,250.74" fill="none" stroke="#6aad46" stroke-width="1.7" stroke-dasharray="4,2.4" stroke-linejoin="round"/>
<line x1="208.8" y1="229.51" x2="208.8" y2="243.51" stroke="#141414" stroke-width="1"/>
<line x1="207" y1="229.51" x2="210.6" y2="229.51" stroke="#141414" stroke-width="1"/>
<line x1="207" y1="243.51" x2="210.6" y2="243.51" stroke="#141414" stroke-width="1"/>
<line x1="239.8" y1="244.89" x2="239.8" y2="250.89" stroke="#141414" stroke-width="1"/>
<line x1="238" y1="244.89" x2="241.6" y2="244.89" stroke="#141414" stroke-width="1"/>
<line x1="238" y1="250.89" x2="241.6" y2="250.89" stroke="#141414" stroke-width="1"/>
<line x1="270.9" y1="248.74" x2="270.9" y2="252.74" stroke="#141414" stroke-width="1"/>
<line x1="269.1" y1="248.74" x2="272.7" y2="248.74" stroke="#141414" stroke-width="1"/>
<line x1="269.1" y1="252.74" x2="272.7" y2="252.74" stroke="#141414" stroke-width="1"/>
<circle cx="177.7" cy="306.6" r="2.6" fill="#fff" stroke="#6aad46" stroke-width="1.4"/>
<circle cx="208.8" cy="236.51" r="2.6" fill="#fff" stroke="#6aad46" stroke-width="1.4"/>
<circle cx="239.8" cy="247.89" r="2.6" fill="#fff" stroke="#6aad46" stroke-width="1.4"/>
<circle cx="270.9" cy="250.74" r="2.6" fill="#fff" stroke="#6aad46" stroke-width="1.4"/>
<polyline points="177.7,306.6 208.8,259.99 239.8,266.75 270.9,268.53" fill="none" stroke="#a3123a" stroke-width="1.7" stroke-linejoin="round"/>
<line x1="208.8" y1="252.99" x2="208.8" y2="266.99" stroke="#141414" stroke-width="1"/>
<line x1="207" y1="252.99" x2="210.6" y2="252.99" stroke="#141414" stroke-width="1"/>
<line x1="207" y1="266.99" x2="210.6" y2="266.99" stroke="#141414" stroke-width="1"/>
<line x1="239.8" y1="260.45" x2="239.8" y2="273.05" stroke="#141414" stroke-width="1"/>
<line x1="238" y1="260.45" x2="241.6" y2="260.45" stroke="#141414" stroke-width="1"/>
<line x1="238" y1="273.05" x2="241.6" y2="273.05" stroke="#141414" stroke-width="1"/>
<line x1="270.9" y1="263.53" x2="270.9" y2="273.53" stroke="#141414" stroke-width="1"/>
<line x1="269.1" y1="263.53" x2="272.7" y2="263.53" stroke="#141414" stroke-width="1"/>
<line x1="269.1" y1="273.53" x2="272.7" y2="273.53" stroke="#141414" stroke-width="1"/>
<polygon points="177.7,303.61 180.69,306.6 177.7,309.59 174.71,306.6" fill="#fff" stroke="#a3123a" stroke-width="1.4"/>
<polygon points="208.8,257 211.79,259.99 208.8,262.98 205.81,259.99" fill="#fff" stroke="#a3123a" stroke-width="1.4"/>
<polygon points="239.8,263.76 242.79,266.75 239.8,269.74 236.81,266.75" fill="#fff" stroke="#a3123a" stroke-width="1.4"/>
<polygon points="270.9,265.54 273.89,268.53 270.9,271.52 267.91,268.53" fill="#fff" stroke="#a3123a" stroke-width="1.4"/>
<polyline points="177.7,306.6 208.8,294.15 239.8,296.28 270.9,298.42" fill="none" stroke="#6aad46" stroke-width="1.7" stroke-linejoin="round"/>
<line x1="208.8" y1="292.15" x2="208.8" y2="296.15" stroke="#141414" stroke-width="1"/>
<line x1="207" y1="292.15" x2="210.6" y2="292.15" stroke="#141414" stroke-width="1"/>
<line x1="207" y1="296.15" x2="210.6" y2="296.15" stroke="#141414" stroke-width="1"/>
<line x1="239.8" y1="294.28" x2="239.8" y2="298.28" stroke="#141414" stroke-width="1"/>
<line x1="238" y1="294.28" x2="241.6" y2="294.28" stroke="#141414" stroke-width="1"/>
<line x1="238" y1="298.28" x2="241.6" y2="298.28" stroke="#141414" stroke-width="1"/>
<line x1="270.9" y1="295.92" x2="270.9" y2="300.92" stroke="#141414" stroke-width="1"/>
<line x1="269.1" y1="295.92" x2="272.7" y2="295.92" stroke="#141414" stroke-width="1"/>
<line x1="269.1" y1="300.92" x2="272.7" y2="300.92" stroke="#141414" stroke-width="1"/>
<polygon points="177.7,303.61 180.56,308.68 174.84,308.68" fill="#fff" stroke="#6aad46" stroke-width="1.4" stroke-linejoin="miter"/>
<polygon points="208.8,291.16 211.66,296.23 205.94,296.23" fill="#fff" stroke="#6aad46" stroke-width="1.4" stroke-linejoin="miter"/>
<polygon points="239.8,293.29 242.66,298.36 236.94,298.36" fill="#fff" stroke="#6aad46" stroke-width="1.4" stroke-linejoin="miter"/>
<polygon points="270.9,295.43 273.76,300.5 268.04,300.5" fill="#fff" stroke="#6aad46" stroke-width="1.4" stroke-linejoin="miter"/>
<rect x="174.8" y="303.5" width="5.8" height="6" fill="#5e5a34" opacity="0.85"/>
<polyline points="275,249 277.2,249 277.2,255.4 275,255.4" fill="none" stroke="#141414" stroke-width="1.2" stroke-linejoin="round"/>
<text x="280.2" y="255.4" font-size="7.8" fill="#141414" stroke="#141414" stroke-width="0.34">NS</text>
<polyline points="275.2,257.4 277.6,257.4 277.6,297.8 275.2,297.8" fill="none" stroke="#141414" stroke-width="0.9" stroke-linejoin="round"/>
<line x1="277.6" y1="269.6" x2="275.4" y2="269.6" stroke="#141414" stroke-width="0.9"/>
<circle cx="282" cy="263" r="1.1" fill="#141414"/>
<circle cx="265.9" cy="283.5" r="1.1" fill="#141414"/>
<circle cx="269.6" cy="283.5" r="1.1" fill="#141414"/>
<circle cx="273.3" cy="283.5" r="1.1" fill="#141414"/>
<text x="321.8" y="189.4" font-size="8.6" font-weight="bold" fill="#000" stroke="#000" stroke-width="0.1">iii</text>
<line x1="355.6" y1="206" x2="355.6" y2="307.2" stroke="#141414" stroke-width="1.3"/>
<line x1="352.6" y1="306.6" x2="355.6" y2="306.6" stroke="#141414" stroke-width="1.2"/>
<text x="345.6" y="309.6" font-size="8.2" text-anchor="end" fill="#141414" stroke="#141414" stroke-width="0.34">10</text>
<text x="345.8" y="306" font-size="5.4" fill="#141414" stroke="#141414" stroke-width="0.34">7</text>
<line x1="352.6" y1="257.8" x2="355.6" y2="257.8" stroke="#141414" stroke-width="1.2"/>
<text x="345.6" y="260.8" font-size="8.2" text-anchor="end" fill="#141414" stroke="#141414" stroke-width="0.34">10</text>
<text x="345.8" y="257.2" font-size="5.4" fill="#141414" stroke="#141414" stroke-width="0.34">8</text>
<line x1="352.6" y1="209" x2="355.6" y2="209" stroke="#141414" stroke-width="1.2"/>
<text x="345.6" y="212" font-size="8.2" text-anchor="end" fill="#141414" stroke="#141414" stroke-width="0.34">10</text>
<text x="345.8" y="208.4" font-size="5.4" fill="#141414" stroke="#141414" stroke-width="0.34">9</text>
<line x1="355.6" y1="306.6" x2="481.2" y2="306.6" stroke="#141414" stroke-width="1.4"/>
<text transform="translate(332,258.7) rotate(-90)" text-anchor="middle" font-size="8.6" fill="#141414" stroke="#141414" stroke-width="0.34">Skin lesion CFU/ml</text>
<polygon points="359.5,217.97 362.03,220.5 359.5,223.03 356.97,220.5" fill="none" stroke="#a3123a" stroke-width="1.4"/>
<polygon points="366.5,217.97 369.03,220.5 366.5,223.03 363.97,220.5" fill="none" stroke="#a3123a" stroke-width="1.4"/>
<polygon points="359.5,229.47 362.03,232 359.5,234.53 356.97,232" fill="none" stroke="#a3123a" stroke-width="1.4"/>
<polygon points="363.5,231.97 366.03,234.5 363.5,237.03 360.97,234.5" fill="none" stroke="#a3123a" stroke-width="1.4"/>
<polygon points="366.5,230.47 369.03,233 366.5,235.53 363.97,233" fill="none" stroke="#a3123a" stroke-width="1.4"/>
<polygon points="368.6,230.27 371.13,232.8 368.6,235.33 366.07,232.8" fill="none" stroke="#a3123a" stroke-width="1.4"/>
<polygon points="360.5,234.97 363.03,237.5 360.5,240.03 357.97,237.5" fill="none" stroke="#a3123a" stroke-width="1.4"/>
<polygon points="364.5,237.97 367.03,240.5 364.5,243.03 361.97,240.5" fill="none" stroke="#a3123a" stroke-width="1.4"/>
<polygon points="362,245.97 364.53,248.5 362,251.03 359.47,248.5" fill="none" stroke="#a3123a" stroke-width="1.4"/>
<line x1="372.7" y1="232.5" x2="383.6" y2="232.5" stroke="#141414" stroke-width="2.1"/>
<line x1="378.15" y1="228.7" x2="378.15" y2="236.3" stroke="#141414" stroke-width="0.9"/>
<line x1="375.95" y1="228.7" x2="380.35" y2="228.7" stroke="#141414" stroke-width="0.9"/>
<line x1="375.95" y1="236.3" x2="380.35" y2="236.3" stroke="#141414" stroke-width="0.9"/>
<polygon points="388.5,253.85 391.03,258.34 385.97,258.34" fill="none" stroke="#7ab84f" stroke-width="1.4" stroke-linejoin="miter"/>
<polygon points="395,254.85 397.53,259.34 392.47,259.34" fill="none" stroke="#7ab84f" stroke-width="1.4" stroke-linejoin="miter"/>
<polygon points="386.5,259.86 389.03,264.34 383.97,264.34" fill="none" stroke="#7ab84f" stroke-width="1.4" stroke-linejoin="miter"/>
<polygon points="392,259.86 394.53,264.34 389.47,264.34" fill="none" stroke="#7ab84f" stroke-width="1.4" stroke-linejoin="miter"/>
<polygon points="399,260.36 401.53,264.84 396.47,264.84" fill="none" stroke="#7ab84f" stroke-width="1.4" stroke-linejoin="miter"/>
<polygon points="391.5,265.36 394.03,269.84 388.97,269.84" fill="none" stroke="#7ab84f" stroke-width="1.4" stroke-linejoin="miter"/>
<polygon points="396.5,265.36 399.03,269.84 393.97,269.84" fill="none" stroke="#7ab84f" stroke-width="1.4" stroke-linejoin="miter"/>
<polygon points="389.5,270.36 392.03,274.84 386.97,274.84" fill="none" stroke="#7ab84f" stroke-width="1.4" stroke-linejoin="miter"/>
<line x1="403.8" y1="262.6" x2="415.8" y2="262.6" stroke="#141414" stroke-width="2.1"/>
<line x1="409.8" y1="261.4" x2="409.8" y2="263.8" stroke="#141414" stroke-width="0.9"/>
<line x1="407.6" y1="261.4" x2="412" y2="261.4" stroke="#141414" stroke-width="0.9"/>
<line x1="407.6" y1="263.8" x2="412" y2="263.8" stroke="#141414" stroke-width="0.9"/>
<rect x="423.8" y="209.8" width="3.4" height="3.4" fill="none" stroke="#c8203f" stroke-width="1.4"/>
<rect x="429.8" y="211.8" width="3.4" height="3.4" fill="none" stroke="#c8203f" stroke-width="1.4"/>
<rect x="419.8" y="214.3" width="3.4" height="3.4" fill="none" stroke="#c8203f" stroke-width="1.4"/>
<rect x="425.3" y="215.3" width="3.4" height="3.4" fill="none" stroke="#c8203f" stroke-width="1.4"/>
<rect x="422.3" y="218.8" width="3.4" height="3.4" fill="none" stroke="#c8203f" stroke-width="1.4"/>
<rect x="429.3" y="218.8" width="3.4" height="3.4" fill="none" stroke="#c8203f" stroke-width="1.4"/>
<rect x="426.3" y="212.3" width="3.4" height="3.4" fill="none" stroke="#c8203f" stroke-width="1.4"/>
<line x1="435.9" y1="216.8" x2="447.2" y2="216.8" stroke="#141414" stroke-width="2.1"/>
<line x1="441.55" y1="216" x2="441.55" y2="217.6" stroke="#141414" stroke-width="0.9"/>
<line x1="439.35" y1="216" x2="443.75" y2="216" stroke="#141414" stroke-width="0.9"/>
<line x1="439.35" y1="217.6" x2="443.75" y2="217.6" stroke="#141414" stroke-width="0.9"/>
<circle cx="457.5" cy="210.5" r="2.4" fill="none" stroke="#6aad46" stroke-width="1.4"/>
<circle cx="463.5" cy="209.5" r="2.4" fill="none" stroke="#6aad46" stroke-width="1.4"/>
<circle cx="455.5" cy="215.5" r="2.4" fill="none" stroke="#6aad46" stroke-width="1.4"/>
<circle cx="461" cy="216" r="2.4" fill="none" stroke="#6aad46" stroke-width="1.4"/>
<circle cx="466" cy="216.5" r="2.4" fill="none" stroke="#6aad46" stroke-width="1.4"/>
<circle cx="458" cy="221.5" r="2.4" fill="none" stroke="#6aad46" stroke-width="1.4"/>
<circle cx="463.5" cy="221.5" r="2.4" fill="none" stroke="#6aad46" stroke-width="1.4"/>
<circle cx="460" cy="213" r="2.4" fill="none" stroke="#6aad46" stroke-width="1.4"/>
<line x1="467.8" y1="215.3" x2="480" y2="215.3" stroke="#141414" stroke-width="2.1"/>
<line x1="473.9" y1="214.5" x2="473.9" y2="216.1" stroke="#141414" stroke-width="0.9"/>
<line x1="471.7" y1="214.5" x2="476.1" y2="214.5" stroke="#141414" stroke-width="0.9"/>
<line x1="471.7" y1="216.1" x2="476.1" y2="216.1" stroke="#141414" stroke-width="0.9"/>
<polyline points="377,224.2 377,221.6 407,221.6 407,224.4" fill="none" stroke="#141414" stroke-width="1.2" stroke-linejoin="round"/>
<circle cx="388.3" cy="217.2" r="1.1" fill="#141414"/>
<circle cx="392" cy="217.2" r="1.1" fill="#141414"/>
<circle cx="395.7" cy="217.2" r="1.1" fill="#141414"/>
<polyline points="377,207.2 377,204.6 437.6,204.6 437.6,207.6" fill="none" stroke="#141414" stroke-width="1.2" stroke-linejoin="round"/>
<circle cx="405.45" cy="200.3" r="1.1" fill="#141414"/>
<circle cx="409.15" cy="200.3" r="1.1" fill="#141414"/>
<polyline points="441.2,207.7 441.2,205.1 472.7,205.1 472.7,207.7" fill="none" stroke="#141414" stroke-width="1.2" stroke-linejoin="round"/>
<text x="457" y="201.4" font-size="7.8" text-anchor="middle" fill="#141414" stroke="#141414" stroke-width="0.34">NS</text>
<text x="369.8" y="319.5" font-size="8.3" text-anchor="middle" fill="#141414" stroke="#141414" stroke-width="0.34">WT</text>
<text x="369.8" y="332.4" font-size="7.2" text-anchor="middle" fill="#141414" stroke="#141414" stroke-width="0.34">–</text>
<text x="400.5" y="319.5" font-size="8.3" text-anchor="middle" fill="#141414" stroke="#141414" stroke-width="0.34">Neu<tspan font-size="5.8" dy="-3.4">ACE</tspan></text>
<text x="400.5" y="332.4" font-size="7.2" text-anchor="middle" fill="#141414" stroke="#141414" stroke-width="0.34">–</text>
<text x="432.2" y="319.5" font-size="8.3" text-anchor="middle" fill="#141414" stroke="#141414" stroke-width="0.34">WT</text>
<text x="432.2" y="332.4" font-size="7.2" text-anchor="middle" fill="#141414" stroke="#141414" stroke-width="0.34">+</text>
<text x="463.5" y="319.5" font-size="8.3" text-anchor="middle" fill="#141414" stroke="#141414" stroke-width="0.34">Neu<tspan font-size="5.8" dy="-3.4">ACE</tspan></text>
<text x="463.5" y="332.4" font-size="7.2" text-anchor="middle" fill="#141414" stroke="#141414" stroke-width="0.34">+</text>
<text x="356.2" y="332.4" font-size="8.1" text-anchor="end" fill="#141414" stroke="#141414" stroke-width="0.34">Ramipril</text>
<text x="8.9" y="359.8" font-size="11.2" font-weight="bold" fill="#000" stroke="#000" stroke-width="0.1">C</text>
<line x1="56.6" y1="384" x2="56.6" y2="472.2" stroke="#141414" stroke-width="1.3"/>
<line x1="53.4" y1="471.6" x2="56.6" y2="471.6" stroke="#141414" stroke-width="1.2"/>
<text x="50.6" y="474.6" font-size="7.8" text-anchor="end" fill="#141414" stroke="#141414" stroke-width="0.25">0</text>
<line x1="53.4" y1="443.4" x2="56.6" y2="443.4" stroke="#141414" stroke-width="1.2"/>
<text x="42.8" y="447" font-size="7.9" text-anchor="end" fill="#141414" stroke="#141414" stroke-width="0.25">5×10</text>
<text x="43.2" y="443.2" font-size="5.4" fill="#141414" stroke="#141414" stroke-width="0.25">05</text>
<line x1="53.4" y1="415.3" x2="56.6" y2="415.3" stroke="#141414" stroke-width="1.2"/>
<text x="42.8" y="418.9" font-size="7.9" text-anchor="end" fill="#141414" stroke="#141414" stroke-width="0.25">1×10</text>
<text x="43.2" y="415.1" font-size="5.4" fill="#141414" stroke="#141414" stroke-width="0.25">06</text>
<line x1="53.4" y1="386.9" x2="56.6" y2="386.9" stroke="#141414" stroke-width="1.2"/>
<text x="42.8" y="390.5" font-size="7.9" text-anchor="end" fill="#141414" stroke="#141414" stroke-width="0.25">2×10</text>
<text x="43.2" y="386.7" font-size="5.4" fill="#141414" stroke="#141414" stroke-width="0.25">06</text>
<line x1="53.4" y1="471.6" x2="182.7" y2="471.6" stroke="#141414" stroke-width="1.4"/>
<text transform="translate(19.6,427.8) rotate(-90)" text-anchor="middle" font-size="8.4" fill="#141414" stroke="#141414" stroke-width="0.25">CFU/ml</text>
<polygon points="63.1,423.38 65.92,426.2 63.1,429.02 60.28,426.2" fill="none" stroke="#a3123a" stroke-width="1.4"/>
<polygon points="68.5,423.38 71.32,426.2 68.5,429.02 65.68,426.2" fill="none" stroke="#a3123a" stroke-width="1.4"/>
<polygon points="63.1,428.98 65.92,431.8 63.1,434.62 60.28,431.8" fill="none" stroke="#a3123a" stroke-width="1.4"/>
<polygon points="68.5,428.98 71.32,431.8 68.5,434.62 65.68,431.8" fill="none" stroke="#a3123a" stroke-width="1.4"/>
<polygon points="65.8,434.98 68.62,437.8 65.8,440.62 62.98,437.8" fill="none" stroke="#a3123a" stroke-width="1.4"/>
<polygon points="63.1,439.98 65.92,442.8 63.1,445.62 60.28,442.8" fill="none" stroke="#a3123a" stroke-width="1.4"/>
<polygon points="68.5,439.98 71.32,442.8 68.5,445.62 65.68,442.8" fill="none" stroke="#a3123a" stroke-width="1.4"/>
<polygon points="65.8,445.98 68.62,448.8 65.8,451.62 62.98,448.8" fill="none" stroke="#a3123a" stroke-width="1.4"/>
<line x1="73.2" y1="436.5" x2="85.3" y2="436.5" stroke="#141414" stroke-width="2.1"/>
<line x1="79.25" y1="434.1" x2="79.25" y2="438.9" stroke="#141414" stroke-width="0.9"/>
<line x1="77.05" y1="434.1" x2="81.45" y2="434.1" stroke="#141414" stroke-width="0.9"/>
<line x1="77.05" y1="438.9" x2="81.45" y2="438.9" stroke="#141414" stroke-width="0.9"/>
<rect x="92.22" y="407.31" width="3.57" height="3.57" fill="none" stroke="#c8203f" stroke-width="1.4"/>
<rect x="99.02" y="407.31" width="3.57" height="3.57" fill="none" stroke="#c8203f" stroke-width="1.4"/>
<rect x="95.12" y="413.41" width="3.57" height="3.57" fill="none" stroke="#c8203f" stroke-width="1.4"/>
<rect x="92.02" y="418.21" width="3.57" height="3.57" fill="none" stroke="#c8203f" stroke-width="1.4"/>
<rect x="95.42" y="418.21" width="3.57" height="3.57" fill="none" stroke="#c8203f" stroke-width="1.4"/>
<rect x="98.81" y="418.21" width="3.57" height="3.57" fill="none" stroke="#c8203f" stroke-width="1.4"/>
<rect x="94.81" y="424.21" width="3.57" height="3.57" fill="none" stroke="#c8203f" stroke-width="1.4"/>
<rect x="98.81" y="424.21" width="3.57" height="3.57" fill="none" stroke="#c8203f" stroke-width="1.4"/>
<line x1="105.5" y1="418.6" x2="116.9" y2="418.6" stroke="#141414" stroke-width="2.1"/>
<line x1="111.2" y1="416.6" x2="111.2" y2="420.6" stroke="#141414" stroke-width="0.9"/>
<line x1="109" y1="416.6" x2="113.4" y2="416.6" stroke="#141414" stroke-width="0.9"/>
<line x1="109" y1="420.6" x2="113.4" y2="420.6" stroke="#141414" stroke-width="0.9"/>
<polygon points="121.5,452.56 124.03,457.04 118.97,457.04" fill="none" stroke="#7ab84f" stroke-width="1.4" stroke-linejoin="miter"/>
<polygon points="133.1,452.56 135.63,457.04 130.57,457.04" fill="none" stroke="#7ab84f" stroke-width="1.4" stroke-linejoin="miter"/>
<polygon points="124.6,457.56 127.13,462.04 122.07,462.04" fill="none" stroke="#7ab84f" stroke-width="1.4" stroke-linejoin="miter"/>
<polygon points="127.6,457.56 130.13,462.04 125.07,462.04" fill="none" stroke="#7ab84f" stroke-width="1.4" stroke-linejoin="miter"/>
<polygon points="121.8,462.96 124.33,467.44 119.27,467.44" fill="none" stroke="#7ab84f" stroke-width="1.4" stroke-linejoin="miter"/>
<polygon points="125.2,462.96 127.73,467.44 122.67,467.44" fill="none" stroke="#7ab84f" stroke-width="1.4" stroke-linejoin="miter"/>
<polygon points="128.8,462.96 131.33,467.44 126.27,467.44" fill="none" stroke="#7ab84f" stroke-width="1.4" stroke-linejoin="miter"/>
<polygon points="126.2,460.16 128.73,464.64 123.67,464.64" fill="none" stroke="#7ab84f" stroke-width="1.4" stroke-linejoin="miter"/>
<line x1="137.4" y1="461.2" x2="148.7" y2="461.2" stroke="#141414" stroke-width="2.1"/>
<line x1="143.05" y1="460.4" x2="143.05" y2="462" stroke="#141414" stroke-width="0.9"/>
<line x1="140.85" y1="460.4" x2="145.25" y2="460.4" stroke="#141414" stroke-width="0.9"/>
<line x1="140.85" y1="462" x2="145.25" y2="462" stroke="#141414" stroke-width="0.9"/>
<circle cx="160.8" cy="408.8" r="2.45" fill="none" stroke="#6aad46" stroke-width="1.4"/>
<circle cx="157.6" cy="414.9" r="2.45" fill="none" stroke="#6aad46" stroke-width="1.4"/>
<circle cx="155" cy="420.1" r="2.45" fill="none" stroke="#6aad46" stroke-width="1.4"/>
<circle cx="161.2" cy="420.1" r="2.45" fill="none" stroke="#6aad46" stroke-width="1.4"/>
<circle cx="153.3" cy="426.1" r="2.45" fill="none" stroke="#6aad46" stroke-width="1.4"/>
<circle cx="165.1" cy="426.1" r="2.45" fill="none" stroke="#6aad46" stroke-width="1.4"/>
<circle cx="160.8" cy="431.6" r="2.45" fill="none" stroke="#6aad46" stroke-width="1.4"/>
<circle cx="156.9" cy="437.6" r="2.45" fill="none" stroke="#6aad46" stroke-width="1.4"/>
<line x1="169.1" y1="423.6" x2="180.7" y2="423.6" stroke="#141414" stroke-width="2.1"/>
<line x1="174.9" y1="420.4" x2="174.9" y2="426.8" stroke="#141414" stroke-width="0.9"/>
<line x1="172.7" y1="420.4" x2="177.1" y2="420.4" stroke="#141414" stroke-width="0.9"/>
<line x1="172.7" y1="426.8" x2="177.1" y2="426.8" stroke="#141414" stroke-width="0.9"/>
<polyline points="79.5,402.4 79.5,399.7 109.5,399.7 109.5,402.4" fill="none" stroke="#141414" stroke-width="1.2" stroke-linejoin="round"/>
<circle cx="91.95" cy="394.6" r="1.1" fill="#141414"/>
<circle cx="95.65" cy="394.6" r="1.1" fill="#141414"/>
<polyline points="112.2,402 112.2,399 173,399 173,402" fill="none" stroke="#141414" stroke-width="1.2" stroke-linejoin="round"/>
<text x="143.2" y="396" font-size="7.8" text-anchor="middle" fill="#141414" stroke="#141414" stroke-width="0.25">NS</text>
<polyline points="112,418.6 112,415.4 142,415.4 142,418.6" fill="none" stroke="#141414" stroke-width="0.9" stroke-linejoin="round"/>
<circle cx="122.9" cy="411" r="1.1" fill="#141414"/>
<circle cx="126.6" cy="411" r="1.1" fill="#141414"/>
<circle cx="130.3" cy="411" r="1.1" fill="#141414"/>
<text x="71.2" y="481.4" font-size="8.3" text-anchor="middle" fill="#141414" stroke="#141414" stroke-width="0.25">WT</text>
<text x="71.2" y="492.2" font-size="7.2" text-anchor="middle" fill="#141414" stroke="#141414" stroke-width="0.25">–</text>
<text x="71.2" y="503.8" font-size="8" text-anchor="middle" fill="#141414" stroke="#141414" stroke-width="0.25">2h</text>
<text x="101.9" y="481.4" font-size="8.3" text-anchor="middle" fill="#141414" stroke="#141414" stroke-width="0.25">WT</text>
<text x="101.9" y="492.2" font-size="7.2" text-anchor="middle" fill="#141414" stroke="#141414" stroke-width="0.25">+</text>
<text x="101.9" y="503.8" font-size="8" text-anchor="middle" fill="#141414" stroke="#141414" stroke-width="0.25">2h</text>
<text x="130.8" y="481.4" font-size="8.3" text-anchor="middle" fill="#141414" stroke="#141414" stroke-width="0.25">Neu<tspan font-size="5.8" dy="-3.4">ACE</tspan></text>
<text x="130.8" y="492.2" font-size="7.2" text-anchor="middle" fill="#141414" stroke="#141414" stroke-width="0.25">–</text>
<text x="130.8" y="503.8" font-size="8" text-anchor="middle" fill="#141414" stroke="#141414" stroke-width="0.25">2h</text>
<text x="163.1" y="481.4" font-size="8.3" text-anchor="middle" fill="#141414" stroke="#141414" stroke-width="0.25">Neu<tspan font-size="5.8" dy="-3.4">ACE</tspan></text>
<text x="163.1" y="492.2" font-size="7.2" text-anchor="middle" fill="#141414" stroke="#141414" stroke-width="0.25">+</text>
<text x="163.1" y="503.8" font-size="8" text-anchor="middle" fill="#141414" stroke="#141414" stroke-width="0.25">2h</text>
<text x="57.8" y="491.6" font-size="8.1" text-anchor="end" fill="#141414" stroke="#141414" stroke-width="0.25">Ramipril</text>
<text x="27.9" y="503.8" font-size="8.1" fill="#141414" stroke="#141414" stroke-width="0.25">Time</text>
<line x1="224.3" y1="384.6" x2="224.3" y2="472.6" stroke="#141414" stroke-width="1.3"/>
<line x1="221.2" y1="472" x2="224.3" y2="472" stroke="#141414" stroke-width="1.2"/>
<text x="218.2" y="475" font-size="7.8" text-anchor="end" fill="#141414" stroke="#141414" stroke-width="0.25">0</text>
<line x1="221.2" y1="443.6" x2="224.3" y2="443.6" stroke="#141414" stroke-width="1.2"/>
<text x="214.9" y="447.6" font-size="8.5" text-anchor="end" fill="#141414" stroke="#141414" stroke-width="0.25">3.0×10</text>
<text x="215" y="443.5" font-size="5.6" fill="#141414" stroke="#141414" stroke-width="0.25">7</text>
<line x1="221.2" y1="415.2" x2="224.3" y2="415.2" stroke="#141414" stroke-width="1.2"/>
<text x="214.9" y="419.2" font-size="8.5" text-anchor="end" fill="#141414" stroke="#141414" stroke-width="0.25">6.0×10</text>
<text x="215" y="415.1" font-size="5.6" fill="#141414" stroke="#141414" stroke-width="0.25">7</text>
<line x1="221.2" y1="386.8" x2="224.3" y2="386.8" stroke="#141414" stroke-width="1.2"/>
<text x="214.9" y="390.8" font-size="8.5" text-anchor="end" fill="#141414" stroke="#141414" stroke-width="0.25">9.0×10</text>
<text x="215" y="386.7" font-size="5.6" fill="#141414" stroke="#141414" stroke-width="0.25">7</text>
<line x1="224.3" y1="472" x2="350.1" y2="472" stroke="#141414" stroke-width="1.4"/>
<polygon points="232.5,402.88 235.32,405.7 232.5,408.52 229.68,405.7" fill="none" stroke="#a3123a" stroke-width="1.4"/>
<polygon points="229.2,412.38 232.02,415.2 229.2,418.02 226.38,415.2" fill="none" stroke="#a3123a" stroke-width="1.4"/>
<polygon points="235.7,412.38 238.52,415.2 235.7,418.02 232.88,415.2" fill="none" stroke="#a3123a" stroke-width="1.4"/>
<polygon points="229.2,421.88 232.02,424.7 229.2,427.52 226.38,424.7" fill="none" stroke="#a3123a" stroke-width="1.4"/>
<polygon points="235.7,421.88 238.52,424.7 235.7,427.52 232.88,424.7" fill="none" stroke="#a3123a" stroke-width="1.4"/>
<polygon points="232.5,431.28 235.32,434.1 232.5,436.92 229.68,434.1" fill="none" stroke="#a3123a" stroke-width="1.4"/>
<polygon points="229.2,440.78 232.02,443.6 229.2,446.42 226.38,443.6" fill="none" stroke="#a3123a" stroke-width="1.4"/>
<polygon points="235.7,440.78 238.52,443.6 235.7,446.42 232.88,443.6" fill="none" stroke="#a3123a" stroke-width="1.4"/>
<line x1="239.4" y1="425.3" x2="250.3" y2="425.3" stroke="#141414" stroke-width="2.1"/>
<line x1="244.85" y1="420.6" x2="244.85" y2="430" stroke="#141414" stroke-width="0.9"/>
<line x1="242.65" y1="420.6" x2="247.05" y2="420.6" stroke="#141414" stroke-width="0.9"/>
<line x1="242.65" y1="430" x2="247.05" y2="430" stroke="#141414" stroke-width="0.9"/>
<rect x="259.41" y="394.41" width="3.57" height="3.57" fill="none" stroke="#c8203f" stroke-width="1.4"/>
<rect x="259.41" y="403.91" width="3.57" height="3.57" fill="none" stroke="#c8203f" stroke-width="1.4"/>
<rect x="255.72" y="413.41" width="3.57" height="3.57" fill="none" stroke="#c8203f" stroke-width="1.4"/>
<rect x="261.81" y="413.41" width="3.57" height="3.57" fill="none" stroke="#c8203f" stroke-width="1.4"/>
<rect x="259.41" y="422.91" width="3.57" height="3.57" fill="none" stroke="#c8203f" stroke-width="1.4"/>
<rect x="255.72" y="432.31" width="3.57" height="3.57" fill="none" stroke="#c8203f" stroke-width="1.4"/>
<rect x="261.81" y="432.31" width="3.57" height="3.57" fill="none" stroke="#c8203f" stroke-width="1.4"/>
<rect x="259.41" y="436.61" width="3.57" height="3.57" fill="none" stroke="#c8203f" stroke-width="1.4"/>
<line x1="267.7" y1="420" x2="278.3" y2="420" stroke="#141414" stroke-width="2.1"/>
<line x1="273" y1="415" x2="273" y2="425" stroke="#141414" stroke-width="0.9"/>
<line x1="270.8" y1="415" x2="275.2" y2="415" stroke="#141414" stroke-width="0.9"/>
<line x1="270.8" y1="425" x2="275.2" y2="425" stroke="#141414" stroke-width="0.9"/>
<path d="M279.4,472 C280.5,462.5 291.3,462.5 292.4,472 Z" fill="#6aad46"/>
<line x1="296" y1="468.2" x2="306.8" y2="468.2" stroke="#141414" stroke-width="1.4"/>
<circle cx="317.9" cy="395.8" r="2.5" fill="none" stroke="#6aad46" stroke-width="1.4"/>
<circle cx="317.9" cy="405.6" r="2.5" fill="none" stroke="#6aad46" stroke-width="1.4"/>
<circle cx="314" cy="424.2" r="2.5" fill="none" stroke="#6aad46" stroke-width="1.4"/>
<circle cx="317.9" cy="424.2" r="2.5" fill="none" stroke="#6aad46" stroke-width="1.4"/>
<circle cx="321.9" cy="424.2" r="2.5" fill="none" stroke="#6aad46" stroke-width="1.4"/>
<circle cx="314" cy="429" r="2.5" fill="none" stroke="#6aad46" stroke-width="1.4"/>
<circle cx="317.9" cy="434.3" r="2.5" fill="none" stroke="#6aad46" stroke-width="1.4"/>
<circle cx="321.9" cy="434.3" r="2.5" fill="none" stroke="#6aad46" stroke-width="1.4"/>
<line x1="325.5" y1="421.5" x2="335.6" y2="421.5" stroke="#141414" stroke-width="2.1"/>
<line x1="330.55" y1="416.7" x2="330.55" y2="426.3" stroke="#141414" stroke-width="0.9"/>
<line x1="328.35" y1="416.7" x2="332.75" y2="416.7" stroke="#141414" stroke-width="0.9"/>
<line x1="328.35" y1="426.3" x2="332.75" y2="426.3" stroke="#141414" stroke-width="0.9"/>
<polyline points="243,391.6 243,388.6 298.6,388.6 298.6,391.6" fill="none" stroke="#141414" stroke-width="1.2" stroke-linejoin="round"/>
<circle cx="267.2" cy="383.8" r="1.1" fill="#141414"/>
<circle cx="270.9" cy="383.8" r="1.1" fill="#141414"/>
<circle cx="274.6" cy="383.8" r="1.1" fill="#141414"/>
<polyline points="271.6,379.3 271.6,375.9 327.4,375.9 327.4,379.3" fill="none" stroke="#141414" stroke-width="1.2" stroke-linejoin="round"/>
<text x="298.8" y="373.2" font-size="7.8" text-anchor="middle" fill="#141414" stroke="#141414" stroke-width="0.25">NS</text>
<text x="236.2" y="482.6" font-size="8.3" text-anchor="middle" fill="#141414" stroke="#141414" stroke-width="0.25">WT</text>
<text x="236.2" y="492.4" font-size="7.2" text-anchor="middle" fill="#141414" stroke="#141414" stroke-width="0.25">–</text>
<text x="236.2" y="503.4" font-size="8" text-anchor="middle" fill="#141414" stroke="#141414" stroke-width="0.25">5h</text>
<text x="262.4" y="482.6" font-size="8.3" text-anchor="middle" fill="#141414" stroke="#141414" stroke-width="0.25">WT</text>
<text x="262.4" y="492.4" font-size="7.2" text-anchor="middle" fill="#141414" stroke="#141414" stroke-width="0.25">+</text>
<text x="262.4" y="503.4" font-size="8" text-anchor="middle" fill="#141414" stroke="#141414" stroke-width="0.25">5h</text>
<text x="293.9" y="482.6" font-size="8.3" text-anchor="middle" fill="#141414" stroke="#141414" stroke-width="0.25">Neu<tspan font-size="5.8" dy="-3.4">ACE</tspan></text>
<text x="293.9" y="492.4" font-size="7.2" text-anchor="middle" fill="#141414" stroke="#141414" stroke-width="0.25">–</text>
<text x="293.9" y="503.4" font-size="8" text-anchor="middle" fill="#141414" stroke="#141414" stroke-width="0.25">5h</text>
<text x="325.4" y="482.6" font-size="8.3" text-anchor="middle" fill="#141414" stroke="#141414" stroke-width="0.25">Neu<tspan font-size="5.8" dy="-3.4">ACE</tspan></text>
<text x="325.4" y="492.4" font-size="7.2" text-anchor="middle" fill="#141414" stroke="#141414" stroke-width="0.25">+</text>
<text x="325.4" y="503.4" font-size="8" text-anchor="middle" fill="#141414" stroke="#141414" stroke-width="0.25">5h</text>
<text x="362.5" y="360" font-size="11.2" font-weight="bold" fill="#000" stroke="#000" stroke-width="0.1">D</text>
<line x1="402.5" y1="382.8" x2="402.5" y2="472.1" stroke="#141414" stroke-width="1.3"/>
<line x1="399.5" y1="471.5" x2="402.5" y2="471.5" stroke="#141414" stroke-width="1.2"/>
<text x="397.1" y="474.3" font-size="8.4" text-anchor="end" fill="#141414" stroke="#141414" stroke-width="0.25">0</text>
<line x1="399.5" y1="443.01" x2="402.5" y2="443.01" stroke="#141414" stroke-width="1.2"/>
<text x="397.1" y="445.81" font-size="8.4" text-anchor="end" fill="#141414" stroke="#141414" stroke-width="0.25">20</text>
<line x1="399.5" y1="414.52" x2="402.5" y2="414.52" stroke="#141414" stroke-width="1.2"/>
<text x="397.1" y="417.32" font-size="8.4" text-anchor="end" fill="#141414" stroke="#141414" stroke-width="0.25">40</text>
<line x1="399.5" y1="386.03" x2="402.5" y2="386.03" stroke="#141414" stroke-width="1.2"/>
<text x="397.1" y="388.83" font-size="8.4" text-anchor="end" fill="#141414" stroke="#141414" stroke-width="0.25">60</text>
<line x1="402.5" y1="471.5" x2="509.6" y2="471.5" stroke="#141414" stroke-width="1.4"/>
<line x1="411.2" y1="471.5" x2="411.2" y2="474.1" stroke="#141414" stroke-width="1.2"/>
<line x1="428.9" y1="471.5" x2="428.9" y2="474.1" stroke="#141414" stroke-width="1.2"/>
<line x1="446.9" y1="471.5" x2="446.9" y2="474.1" stroke="#141414" stroke-width="1.2"/>
<line x1="464.7" y1="471.5" x2="464.7" y2="474.1" stroke="#141414" stroke-width="1.2"/>
<line x1="482.7" y1="471.5" x2="482.7" y2="474.1" stroke="#141414" stroke-width="1.2"/>
<line x1="500.5" y1="471.5" x2="500.5" y2="474.1" stroke="#141414" stroke-width="1.2"/>
<text x="411.2" y="484.7" font-size="8.4" text-anchor="middle" fill="#141414" stroke="#141414" stroke-width="0.25">0</text>
<text x="428.9" y="484.7" font-size="8.4" text-anchor="middle" fill="#141414" stroke="#141414" stroke-width="0.25">2</text>
<text x="446.9" y="484.7" font-size="8.4" text-anchor="middle" fill="#141414" stroke="#141414" stroke-width="0.25">10</text>
<text x="464.7" y="484.7" font-size="8.4" text-anchor="middle" fill="#141414" stroke="#141414" stroke-width="0.25">20</text>
<text x="482.7" y="484.7" font-size="8.4" text-anchor="middle" fill="#141414" stroke="#141414" stroke-width="0.25">30</text>
<text x="500.5" y="484.7" font-size="8.4" text-anchor="middle" fill="#141414" stroke="#141414" stroke-width="0.25">60</text>
<text x="453.6" y="497.3" font-size="8.2" text-anchor="middle" fill="#141414" stroke="#141414" stroke-width="0.25">Time (Min)</text>
<text transform="translate(368.8,430.8) rotate(-90)" text-anchor="middle" font-size="8.9" fill="#141414" stroke="#141414" stroke-width="0.25">% GFP-positive</text>
<text transform="translate(379.9,427.4) rotate(-90)" text-anchor="middle" font-size="8.9" fill="#141414" stroke="#141414" stroke-width="0.25">neutrophils</text>
<polyline points="411.2,468.5 428.9,460.4 446.9,450.3 464.7,438.4" fill="none" stroke="#6e6a36" stroke-width="1.7" stroke-linejoin="round"/>
<polyline points="464.7,436.9 482.7,430.4 500.5,410.8" fill="none" stroke="#6aad46" stroke-width="1.7" stroke-dasharray="4,2.4" stroke-linejoin="round"/>
<polyline points="464.7,439.6 482.7,416.5 500.5,402.2" fill="none" stroke="#a3123a" stroke-width="1.7" stroke-linejoin="round"/>
<circle cx="411.2" cy="468.5" r="2.4" fill="#d8d8b0" stroke="#6e6a36" stroke-width="1.5"/>
<circle cx="428.9" cy="460.4" r="2.4" fill="#d8d8b0" stroke="#6e6a36" stroke-width="1.5"/>
<circle cx="446.9" cy="450.3" r="2.4" fill="#d8d8b0" stroke="#6e6a36" stroke-width="1.5"/>
<polygon points="464.7,434.02 467.45,438.9 461.95,438.9" fill="#fff" stroke="#6aad46" stroke-width="1.4" stroke-linejoin="miter"/>
<circle cx="464.7" cy="439.6" r="2.4" fill="#fff" stroke="#a3123a" stroke-width="1.6"/>
<polygon points="482.7,427.52 485.45,432.4 479.95,432.4" fill="#fff" stroke="#6aad46" stroke-width="1.4" stroke-linejoin="miter"/>
<polygon points="500.5,407.93 503.25,412.8 497.75,412.8" fill="#fff" stroke="#6aad46" stroke-width="1.4" stroke-linejoin="miter"/>
<circle cx="482.7" cy="416.5" r="2.4" fill="#fff" stroke="#a3123a" stroke-width="1.6"/>
<circle cx="500.5" cy="402.2" r="2.4" fill="#fff" stroke="#a3123a" stroke-width="1.6"/>
<line x1="406.5" y1="385.4" x2="419.5" y2="385.4" stroke="#a3123a" stroke-width="1.4"/>
<circle cx="413" cy="385.4" r="2" fill="#fff" stroke="#a3123a" stroke-width="1.5"/>
<text x="421.8" y="388.2" font-size="7.7" fill="#141414" stroke="#141414" stroke-width="0.25">WT</text>
<line x1="406.5" y1="395.3" x2="419.5" y2="395.3" stroke="#6aad46" stroke-width="1.4" stroke-dasharray="3,1.6"/>
<polygon points="413,392.66 415.53,397.14 410.47,397.14" fill="#fff" stroke="#6aad46" stroke-width="1.3" stroke-linejoin="miter"/>
<text x="421.8" y="398.1" font-size="7.7" fill="#141414" stroke="#141414" stroke-width="0.25">Neu<tspan font-size="5.8" dy="-3.4">ACE</tspan></text>
<text x="9.7" y="530.2" font-size="11.2" font-weight="bold" fill="#000" stroke="#000" stroke-width="0.1">E</text>
<line x1="56.7" y1="536" x2="56.7" y2="635.6" stroke="#141414" stroke-width="1.3"/>
<line x1="53.7" y1="635" x2="56.7" y2="635" stroke="#141414" stroke-width="1.2"/>
<text x="51.3" y="637.8" font-size="8.4" text-anchor="end" fill="#141414" stroke="#141414" stroke-width="0.25">0</text>
<line x1="53.7" y1="616.42" x2="56.7" y2="616.42" stroke="#141414" stroke-width="1.2"/>
<text x="51.3" y="619.22" font-size="8.4" text-anchor="end" fill="#141414" stroke="#141414" stroke-width="0.25">5</text>
<line x1="53.7" y1="597.84" x2="56.7" y2="597.84" stroke="#141414" stroke-width="1.2"/>
<text x="51.3" y="600.64" font-size="8.4" text-anchor="end" fill="#141414" stroke="#141414" stroke-width="0.25">10</text>
<line x1="53.7" y1="579.26" x2="56.7" y2="579.26" stroke="#141414" stroke-width="1.2"/>
<text x="51.3" y="582.06" font-size="8.4" text-anchor="end" fill="#141414" stroke="#141414" stroke-width="0.25">15</text>
<line x1="53.7" y1="560.68" x2="56.7" y2="560.68" stroke="#141414" stroke-width="1.2"/>
<text x="51.3" y="563.48" font-size="8.4" text-anchor="end" fill="#141414" stroke="#141414" stroke-width="0.25">20</text>
<line x1="53.7" y1="542.1" x2="56.7" y2="542.1" stroke="#141414" stroke-width="1.2"/>
<text x="51.3" y="544.9" font-size="8.4" text-anchor="end" fill="#141414" stroke="#141414" stroke-width="0.25">25</text>
<line x1="56.7" y1="635" x2="184.6" y2="635" stroke="#141414" stroke-width="1.4"/>
<text transform="translate(24.6,585.9) rotate(-90)" text-anchor="middle" font-size="8.6" fill="#141414" stroke="#141414" stroke-width="0.25">% of GFP positive</text>
<text transform="translate(36.6,585.7) rotate(-90)" text-anchor="middle" font-size="8.6" fill="#141414" stroke="#141414" stroke-width="0.25">neutrophils</text>
<rect x="65.4" y="538.3" width="6.1" height="6.3" fill="#a0082c"/>
<text x="73.4" y="544.6" font-size="8" fill="#141414" stroke="#141414" stroke-width="0.25">WT</text>
<rect x="65.4" y="548.5" width="6.1" height="6.3" fill="#66ad44"/>
<text x="73.4" y="554.8" font-size="8" fill="#141414" stroke="#141414" stroke-width="0.25">Neu<tspan font-size="5.8" dy="-3.4">ACE</tspan></text>
<rect x="57.5" y="630.54" width="4.5" height="4.46" fill="#a0082c"/>
<rect x="63.23" y="630.54" width="4.5" height="4.46" fill="#66ad44"/>
<rect x="68.96" y="569.23" width="4.5" height="65.77" fill="#a0082c"/>
<line x1="71.21" y1="565.51" x2="71.21" y2="569.23" stroke="#141414" stroke-width="0.9"/>
<line x1="69.91" y1="565.51" x2="72.51" y2="565.51" stroke="#141414" stroke-width="0.9"/>
<rect x="74.69" y="570.71" width="4.5" height="64.29" fill="#66ad44"/>
<line x1="76.94" y1="566.63" x2="76.94" y2="570.71" stroke="#141414" stroke-width="0.9"/>
<line x1="75.64" y1="566.63" x2="78.24" y2="566.63" stroke="#141414" stroke-width="0.9"/>
<rect x="80.42" y="570.34" width="4.5" height="64.66" fill="#a0082c"/>
<line x1="82.67" y1="567.74" x2="82.67" y2="570.34" stroke="#141414" stroke-width="0.9"/>
<line x1="81.37" y1="567.74" x2="83.97" y2="567.74" stroke="#141414" stroke-width="0.9"/>
<rect x="86.15" y="572.2" width="4.5" height="62.8" fill="#66ad44"/>
<line x1="88.4" y1="569.23" x2="88.4" y2="572.2" stroke="#141414" stroke-width="0.9"/>
<line x1="87.1" y1="569.23" x2="89.7" y2="569.23" stroke="#141414" stroke-width="0.9"/>
<rect x="103.3" y="631.28" width="4.5" height="3.72" fill="#a0082c"/>
<rect x="109.03" y="631.28" width="4.5" height="3.72" fill="#66ad44"/>
<rect x="114.76" y="579.63" width="4.5" height="55.37" fill="#a0082c"/>
<line x1="117.01" y1="577.77" x2="117.01" y2="579.63" stroke="#141414" stroke-width="0.9"/>
<line x1="115.71" y1="577.77" x2="118.31" y2="577.77" stroke="#141414" stroke-width="0.9"/>
<rect x="120.49" y="600.07" width="4.5" height="34.93" fill="#66ad44"/>
<line x1="122.74" y1="598.21" x2="122.74" y2="600.07" stroke="#141414" stroke-width="0.9"/>
<line x1="121.44" y1="598.21" x2="124.04" y2="598.21" stroke="#141414" stroke-width="0.9"/>
<rect x="126.22" y="568.11" width="4.5" height="66.89" fill="#a0082c"/>
<line x1="128.47" y1="566.63" x2="128.47" y2="568.11" stroke="#141414" stroke-width="0.9"/>
<line x1="127.17" y1="566.63" x2="129.77" y2="566.63" stroke="#141414" stroke-width="0.9"/>
<rect x="131.95" y="570.34" width="4.5" height="64.66" fill="#66ad44"/>
<line x1="134.2" y1="567.37" x2="134.2" y2="570.34" stroke="#141414" stroke-width="0.9"/>
<line x1="132.9" y1="567.37" x2="135.5" y2="567.37" stroke="#141414" stroke-width="0.9"/>
<rect x="148.5" y="630.17" width="4.5" height="4.83" fill="#a0082c"/>
<rect x="154.23" y="630.17" width="4.5" height="4.83" fill="#66ad44"/>
<rect x="159.96" y="586.69" width="4.5" height="48.31" fill="#a0082c"/>
<line x1="162.21" y1="583.35" x2="162.21" y2="586.69" stroke="#141414" stroke-width="0.9"/>
<line x1="160.91" y1="583.35" x2="163.51" y2="583.35" stroke="#141414" stroke-width="0.9"/>
<rect x="165.69" y="609.73" width="4.5" height="25.27" fill="#66ad44"/>
<line x1="167.94" y1="606.39" x2="167.94" y2="609.73" stroke="#141414" stroke-width="0.9"/>
<line x1="166.64" y1="606.39" x2="169.24" y2="606.39" stroke="#141414" stroke-width="0.9"/>
<rect x="171.42" y="562.91" width="4.5" height="72.09" fill="#a0082c"/>
<line x1="173.67" y1="562.17" x2="173.67" y2="562.91" stroke="#141414" stroke-width="0.9"/>
<line x1="172.37" y1="562.17" x2="174.97" y2="562.17" stroke="#141414" stroke-width="0.9"/>
<rect x="177.15" y="564.77" width="4.5" height="70.23" fill="#66ad44"/>
<line x1="179.4" y1="562.17" x2="179.4" y2="564.77" stroke="#141414" stroke-width="0.9"/>
<line x1="178.1" y1="562.17" x2="180.7" y2="562.17" stroke="#141414" stroke-width="0.9"/>
<polyline points="116.4,573 116.4,569.4 122.4,569.4 122.4,573" fill="none" stroke="#141414" stroke-width="0.9" stroke-linejoin="round"/>
<circle cx="116.3" cy="565.5" r="1.1" fill="#141414"/>
<circle cx="119.6" cy="565.5" r="1.1" fill="#141414"/>
<circle cx="122.9" cy="565.5" r="1.1" fill="#141414"/>
<polyline points="162.2,580 162.2,576.4 167.6,576.4 167.6,580" fill="none" stroke="#141414" stroke-width="0.9" stroke-linejoin="round"/>
<circle cx="163.85" cy="570.8" r="1.1" fill="#141414"/>
<circle cx="167.15" cy="570.8" r="1.1" fill="#141414"/>
<text x="8.7" y="646.4" font-size="8.3" fill="#141414" stroke="#141414" stroke-width="0.25">GFP-<tspan font-style="italic">Staph.</tspan></text>
<text x="8.7" y="657.8" font-size="8" fill="#141414" stroke="#141414" stroke-width="0.25">DPI (10 µM)</text>
<text x="22.1" y="673.4" font-size="8" fill="#141414" stroke="#141414" stroke-width="0.25">Time</text>
<text x="62.02" y="646.4" font-size="7.6" text-anchor="middle" fill="#141414" stroke="#141414" stroke-width="0.25">-</text>
<text x="62.02" y="657.8" font-size="7.6" text-anchor="middle" fill="#141414" stroke="#141414" stroke-width="0.25">-</text>
<text x="73.48" y="646.4" font-size="7.6" text-anchor="middle" fill="#141414" stroke="#141414" stroke-width="0.25">+</text>
<text x="73.48" y="657.8" font-size="7.6" text-anchor="middle" fill="#141414" stroke="#141414" stroke-width="0.25">-</text>
<text x="84.94" y="646.4" font-size="7.6" text-anchor="middle" fill="#141414" stroke="#141414" stroke-width="0.25">+</text>
<text x="84.94" y="657.8" font-size="7.6" text-anchor="middle" fill="#141414" stroke="#141414" stroke-width="0.25">+</text>
<line x1="58.7" y1="663" x2="89.45" y2="663" stroke="#141414" stroke-width="1.3"/>
<text x="74.08" y="673.4" font-size="8" text-anchor="middle" fill="#141414" stroke="#141414" stroke-width="0.25">0 h</text>
<text x="107.81" y="646.4" font-size="7.6" text-anchor="middle" fill="#141414" stroke="#141414" stroke-width="0.25">-</text>
<text x="107.81" y="657.8" font-size="7.6" text-anchor="middle" fill="#141414" stroke="#141414" stroke-width="0.25">-</text>
<text x="119.27" y="646.4" font-size="7.6" text-anchor="middle" fill="#141414" stroke="#141414" stroke-width="0.25">+</text>
<text x="119.27" y="657.8" font-size="7.6" text-anchor="middle" fill="#141414" stroke="#141414" stroke-width="0.25">-</text>
<text x="130.74" y="646.4" font-size="7.6" text-anchor="middle" fill="#141414" stroke="#141414" stroke-width="0.25">+</text>
<text x="130.74" y="657.8" font-size="7.6" text-anchor="middle" fill="#141414" stroke="#141414" stroke-width="0.25">+</text>
<line x1="104.5" y1="663" x2="135.25" y2="663" stroke="#141414" stroke-width="1.3"/>
<text x="119.88" y="673.4" font-size="8" text-anchor="middle" fill="#141414" stroke="#141414" stroke-width="0.25">2 h</text>
<text x="153.02" y="646.4" font-size="7.6" text-anchor="middle" fill="#141414" stroke="#141414" stroke-width="0.25">-</text>
<text x="153.02" y="657.8" font-size="7.6" text-anchor="middle" fill="#141414" stroke="#141414" stroke-width="0.25">-</text>
<text x="164.48" y="646.4" font-size="7.6" text-anchor="middle" fill="#141414" stroke="#141414" stroke-width="0.25">+</text>
<text x="164.48" y="657.8" font-size="7.6" text-anchor="middle" fill="#141414" stroke="#141414" stroke-width="0.25">-</text>
<text x="175.94" y="646.4" font-size="7.6" text-anchor="middle" fill="#141414" stroke="#141414" stroke-width="0.25">+</text>
<text x="175.94" y="657.8" font-size="7.6" text-anchor="middle" fill="#141414" stroke="#141414" stroke-width="0.25">+</text>
<line x1="149.7" y1="663" x2="180.45" y2="663" stroke="#141414" stroke-width="1.3"/>
<text x="165.07" y="673.4" font-size="8" text-anchor="middle" fill="#141414" stroke="#141414" stroke-width="0.25">5 h</text>
<text x="219.9" y="530.2" font-size="11.2" font-weight="bold" fill="#000" stroke="#000" stroke-width="0.1">F</text>
<line x1="247" y1="547" x2="247" y2="634.8" stroke="#141414" stroke-width="1.3"/>
<line x1="243.8" y1="634.2" x2="247" y2="634.2" stroke="#141414" stroke-width="1.2"/>
<text x="238.6" y="637.4" font-size="8" text-anchor="end" fill="#141414" stroke="#141414" stroke-width="0.25">10</text>
<text x="238.8" y="633.4" font-size="5.2" fill="#141414" stroke="#141414" stroke-width="0.25">1</text>
<line x1="243.8" y1="591.9" x2="247" y2="591.9" stroke="#141414" stroke-width="1.2"/>
<text x="238.6" y="595.1" font-size="8" text-anchor="end" fill="#141414" stroke="#141414" stroke-width="0.25">10</text>
<text x="238.8" y="591.1" font-size="5.2" fill="#141414" stroke="#141414" stroke-width="0.25">2</text>
<line x1="243.8" y1="549.6" x2="247" y2="549.6" stroke="#141414" stroke-width="1.2"/>
<text x="238.6" y="552.8" font-size="8" text-anchor="end" fill="#141414" stroke="#141414" stroke-width="0.25">10</text>
<text x="238.8" y="548.8" font-size="5.2" fill="#141414" stroke="#141414" stroke-width="0.25">3</text>
<line x1="247" y1="634.2" x2="362.3" y2="634.2" stroke="#141414" stroke-width="1.4"/>
<line x1="266.4" y1="634.2" x2="266.4" y2="636.8" stroke="#141414" stroke-width="1.2"/>
<line x1="304" y1="634.2" x2="304" y2="636.8" stroke="#141414" stroke-width="1.2"/>
<line x1="342.1" y1="634.2" x2="342.1" y2="636.8" stroke="#141414" stroke-width="1.2"/>
<text x="266.4" y="647.6" font-size="8.2" text-anchor="middle" fill="#141414" stroke="#141414" stroke-width="0.25">0h</text>
<text x="304" y="647.6" font-size="8.2" text-anchor="middle" fill="#141414" stroke="#141414" stroke-width="0.25">2h</text>
<text x="342.1" y="647.6" font-size="8.2" text-anchor="middle" fill="#141414" stroke="#141414" stroke-width="0.25">5h</text>
<text transform="translate(225,590.9) rotate(-90)" text-anchor="middle" font-size="8.6" fill="#141414" stroke="#141414" stroke-width="0.25">CFU/5x10<tspan font-size="5.4" dy="-3">4</tspan><tspan dy="3"> neutrophils</tspan></text>
<polyline points="266.4,561.3 304,569 342.1,575.8" fill="none" stroke="#a3123a" stroke-width="1.5" stroke-dasharray="4,2.4" stroke-linejoin="round"/>
<rect x="264.61" y="559.51" width="3.57" height="3.57" fill="#fff" stroke="#a3123a" stroke-width="1.4"/>
<rect x="302.21" y="567.22" width="3.57" height="3.57" fill="#fff" stroke="#a3123a" stroke-width="1.4"/>
<rect x="340.31" y="574.01" width="3.57" height="3.57" fill="#fff" stroke="#a3123a" stroke-width="1.4"/>
<polyline points="266.4,561 304,573.5 342.1,581.5" fill="none" stroke="#6aad46" stroke-width="1.4" stroke-dasharray="4,2.4" stroke-linejoin="round"/>
<circle cx="266.4" cy="561" r="2.1" fill="#fff" stroke="#6aad46" stroke-width="1.4"/>
<circle cx="304" cy="573.5" r="2.1" fill="#fff" stroke="#6aad46" stroke-width="1.4"/>
<circle cx="342.1" cy="581.5" r="2.1" fill="#fff" stroke="#6aad46" stroke-width="1.4"/>
<polyline points="266.4,561.8 304,579.6 342.1,587.9" fill="none" stroke="#a3123a" stroke-width="1.6" stroke-linejoin="round"/>
<line x1="304" y1="577.1" x2="304" y2="582.1" stroke="#141414" stroke-width="1"/>
<line x1="302.2" y1="577.1" x2="305.8" y2="577.1" stroke="#141414" stroke-width="1"/>
<line x1="302.2" y1="582.1" x2="305.8" y2="582.1" stroke="#141414" stroke-width="1"/>
<line x1="342.1" y1="585.9" x2="342.1" y2="589.9" stroke="#141414" stroke-width="1"/>
<line x1="340.3" y1="585.9" x2="343.9" y2="585.9" stroke="#141414" stroke-width="1"/>
<line x1="340.3" y1="589.9" x2="343.9" y2="589.9" stroke="#141414" stroke-width="1"/>
<polygon points="266.4,559.38 268.81,561.8 266.4,564.21 263.98,561.8" fill="#fff" stroke="#a3123a" stroke-width="1.4"/>
<polygon points="304,577.19 306.42,579.6 304,582.01 301.58,579.6" fill="#fff" stroke="#a3123a" stroke-width="1.4"/>
<polygon points="342.1,585.49 344.52,587.9 342.1,590.31 339.69,587.9" fill="#fff" stroke="#a3123a" stroke-width="1.4"/>
<polyline points="266.4,558.4 304,599.9 342.1,610.4" fill="none" stroke="#6aad46" stroke-width="1.3" stroke-linejoin="round"/>
<line x1="304" y1="596.5" x2="304" y2="604.6" stroke="#141414" stroke-width="1"/>
<line x1="302.2" y1="596.5" x2="305.8" y2="596.5" stroke="#141414" stroke-width="1"/>
<line x1="302.2" y1="604.6" x2="305.8" y2="604.6" stroke="#141414" stroke-width="1"/>
<line x1="342.1" y1="606.5" x2="342.1" y2="615.8" stroke="#141414" stroke-width="1"/>
<line x1="340.3" y1="606.5" x2="343.9" y2="606.5" stroke="#141414" stroke-width="1"/>
<line x1="340.3" y1="615.8" x2="343.9" y2="615.8" stroke="#141414" stroke-width="1"/>
<polygon points="266.4,555.87 268.82,560.16 263.98,560.16" fill="#fff" stroke="#6aad46" stroke-width="1.4" stroke-linejoin="miter"/>
<polygon points="304,597.37 306.42,601.66 301.58,601.66" fill="#fff" stroke="#6aad46" stroke-width="1.4" stroke-linejoin="miter"/>
<polygon points="342.1,607.87 344.52,612.16 339.68,612.16" fill="#fff" stroke="#6aad46" stroke-width="1.4" stroke-linejoin="miter"/>
<circle cx="300.3" cy="591.9" r="1.1" fill="#141414"/>
<circle cx="304" cy="591.9" r="1.1" fill="#141414"/>
<circle cx="307.7" cy="591.9" r="1.1" fill="#141414"/>
<circle cx="340.25" cy="601.8" r="1.1" fill="#141414"/>
<circle cx="343.95" cy="601.8" r="1.1" fill="#141414"/>
<line x1="366.2" y1="562.3" x2="377.8" y2="562.3" stroke="#a3123a" stroke-width="1.4"/>
<polygon points="372,559.77 374.53,562.3 372,564.83 369.47,562.3" fill="#fff" stroke="#a3123a" stroke-width="1.9"/>
<text x="381.8" y="565.1" font-size="7.7" fill="#141414" stroke="#141414" stroke-width="0.25">WT</text>
<line x1="366.2" y1="572.7" x2="377.8" y2="572.7" stroke="#6aad46" stroke-width="1.4"/>
<polygon points="372,570.06 374.53,574.54 369.47,574.54" fill="#fff" stroke="#6aad46" stroke-width="1.3" stroke-linejoin="miter"/>
<text x="381.8" y="575.5" font-size="7.7" fill="#141414" stroke="#141414" stroke-width="0.25">Neu<tspan font-size="5.8" dy="-3.4">ACE</tspan></text>
<line x1="366.2" y1="583.1" x2="377.8" y2="583.1" stroke="#a3123a" stroke-width="1.4"/>
<rect x="370.3" y="581.4" width="3.4" height="3.4" fill="#fff" stroke="#a3123a" stroke-width="1.7"/>
<text x="381.8" y="585.9" font-size="7.7" fill="#141414" stroke="#141414" stroke-width="0.25">WT <tspan font-size="7">(DPI 10µM)</tspan></text>
<line x1="366.2" y1="593.9" x2="377.8" y2="593.9" stroke="#6aad46" stroke-width="1.4"/>
<circle cx="372" cy="593.9" r="2" fill="#fff" stroke="#6aad46" stroke-width="1.5"/>
<text x="381.8" y="596.7" font-size="7.7" fill="#141414" stroke="#141414" stroke-width="0.25">Neu<tspan font-size="5.8" dy="-3.4">ACE</tspan><tspan dy="3.4" font-size="7"> (DPI 10µM)</tspan></text>
<rect x="0.75" y="0.75" width="518.5" height="679.5" fill="none" stroke="#000" stroke-width="1.5"/>
</g>
</svg>
</body></html>
